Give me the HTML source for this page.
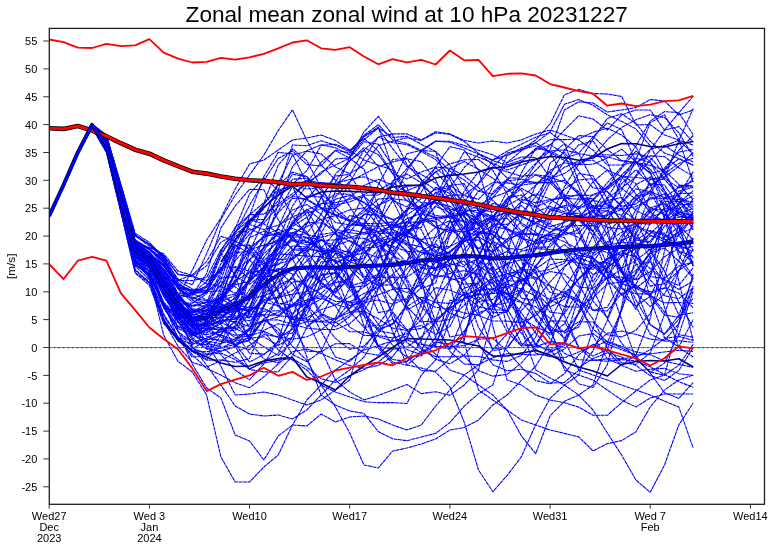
<!DOCTYPE html>
<html><head><meta charset="utf-8"><title>Zonal mean zonal wind at 10 hPa 20231227</title>
<style>
html,body{margin:0;padding:0;background:#fff;width:773px;height:548px;overflow:hidden}
svg{display:block;font-family:"Liberation Sans",Arial,Helvetica,sans-serif;fill:#111}
svg text{fill:#000}
</style></head><body>
<svg width="773" height="548" viewBox="0 0 773 548">
<rect width="773" height="548" fill="#fff"/>
<defs><clipPath id="c"><rect x="49.3" y="28.4" width="715.2" height="475.90000000000003"/></clipPath></defs>
<g clip-path="url(#c)" fill="none" stroke-linejoin="round">
<g stroke="#0000ff" stroke-width="1.1" stroke-dasharray="4,0.5">
<polyline points="49.2,216.0 63.5,185.4 77.8,153.0 92.1,126.6 106.4,148.3 120.8,205.2 135.1,255.0 149.4,258.0 163.7,271.3 178.0,287.9 192.3,291.2 206.6,287.0 220.9,268.5 235.2,251.2 249.5,234.2 263.9,220.5 278.2,195.9 292.5,174.3 306.8,176.6 321.1,190.0 335.4,207.3 349.7,220.6 364.0,225.2 378.3,226.5 392.6,224.5 406.9,230.1 421.3,240.4 435.6,252.7 449.9,257.5 464.2,240.9 478.5,219.1 492.8,192.3 507.1,178.8 521.4,190.3 535.7,214.4 550.1,220.2 564.4,198.6 578.7,173.5 593.0,175.8 607.3,198.4 621.6,222.2 635.9,240.1 650.2,241.5 664.5,221.4 678.8,203.0 693.2,195.6"/>
<polyline points="49.2,216.0 63.5,185.0 77.8,152.3 92.1,126.0 106.4,144.9 120.8,200.9 135.1,252.6 149.4,259.7 163.7,279.8 178.0,302.0 192.3,317.2 206.6,314.5 220.9,296.3 235.2,260.7 249.5,245.0 263.9,260.7 278.2,292.5 292.5,319.2 306.8,317.8 321.1,309.7 335.4,305.1 349.7,296.8 364.0,286.7 378.3,277.0 392.6,277.5 406.9,277.0 421.3,267.7 435.6,256.9 449.9,252.4 464.2,238.4 478.5,215.8 492.8,186.3 507.1,155.6 521.4,147.8 535.7,142.7 550.1,152.1 564.4,178.9 578.7,194.8 593.0,205.7 607.3,220.1 621.6,249.3 635.9,290.3 650.2,324.6 664.5,334.1 678.8,319.6 693.2,285.9"/>
<polyline points="49.2,216.0 63.5,185.0 77.8,152.0 92.1,125.4 106.4,142.7 120.8,201.6 135.1,260.2 149.4,275.0 163.7,306.1 178.0,318.9 192.3,327.1 206.6,328.8 220.9,329.5 235.2,326.9 249.5,307.4 263.9,274.5 278.2,270.5 292.5,283.8 306.8,305.0 321.1,320.6 335.4,338.4 349.7,349.4 364.0,346.0 378.3,330.9 392.6,333.5 406.9,349.6 421.3,354.7 435.6,345.2 449.9,307.5 464.2,277.8 478.5,264.1 492.8,252.0 507.1,239.1 521.4,233.9 535.7,233.9 550.1,236.0 564.4,241.8 578.7,249.5 593.0,247.4 607.3,232.5 621.6,218.8 635.9,200.4 650.2,183.8 664.5,185.0 678.8,205.7 693.2,230.0"/>
<polyline points="49.2,216.0 63.5,185.0 77.8,152.4 92.1,125.8 106.4,143.6 120.8,199.7 135.1,253.9 149.4,264.9 163.7,292.8 178.0,307.1 192.3,311.2 206.6,310.2 220.9,308.8 235.2,311.4 249.5,306.8 263.9,277.4 278.2,259.4 292.5,258.8 306.8,286.3 321.1,313.5 335.4,319.8 349.7,309.1 364.0,280.9 378.3,251.3 392.6,238.8 406.9,250.9 421.3,282.4 435.6,321.8 449.9,351.4 464.2,364.0 478.5,364.8 492.8,357.6 507.1,353.7 521.4,354.3 535.7,355.0 550.1,352.7 564.4,343.4 578.7,312.9 593.0,286.0 607.3,263.1 621.6,241.1 635.9,225.8 650.2,212.3 664.5,201.4 678.8,201.1 693.2,214.1"/>
<polyline points="49.2,216.0 63.5,185.4 77.8,153.0 92.1,127.0 106.4,148.0 120.8,199.6 135.1,244.9 149.4,251.7 163.7,269.4 178.0,299.7 192.3,317.1 206.6,317.7 220.9,305.3 235.2,273.5 249.5,237.7 263.9,231.1 278.2,236.4 292.5,249.2 306.8,248.5 321.1,224.3 335.4,196.6 349.7,181.4 364.0,174.1 378.3,166.6 392.6,161.9 406.9,158.8 421.3,161.7 435.6,179.7 449.9,209.7 464.2,231.4 478.5,235.8 492.8,217.9 507.1,198.1 521.4,195.0 535.7,206.4 550.1,218.8 564.4,219.0 578.7,216.0 593.0,216.5 607.3,215.3 621.6,203.0 635.9,184.7 650.2,176.9 664.5,193.4 678.8,226.1 693.2,266.4"/>
<polyline points="49.2,216.0 63.5,185.0 77.8,153.0 92.1,126.6 106.4,146.3 120.8,201.1 135.1,252.8 149.4,264.7 163.7,303.4 178.0,338.2 192.3,357.1 206.6,356.1 220.9,335.0 235.2,313.4 249.5,294.6 263.9,278.7 278.2,290.5 292.5,325.4 306.8,351.2 321.1,351.7 335.4,343.7 349.7,343.6 364.0,352.8 378.3,355.3 392.6,339.1 406.9,302.3 421.3,269.2 435.6,251.4 449.9,256.4 464.2,279.5 478.5,301.5 492.8,299.4 507.1,284.2 521.4,289.0 535.7,312.3 550.1,330.8 564.4,331.3 578.7,321.7 593.0,322.0 607.3,334.7 621.6,336.9 635.9,330.3 650.2,313.5 664.5,277.3 678.8,224.1 693.2,197.9"/>
<polyline points="49.2,216.0 63.5,185.1 77.8,152.8 92.1,126.4 106.4,148.2 120.8,206.8 135.1,261.8 149.4,267.4 163.7,292.0 178.0,314.7 192.3,334.2 206.6,330.8 220.9,305.5 235.2,270.3 249.5,259.6 263.9,278.3 278.2,305.5 292.5,313.4 306.8,302.4 321.1,295.8 335.4,306.1 349.7,327.2 364.0,335.4 378.3,335.6 392.6,337.9 406.9,333.8 421.3,319.5 435.6,299.0 449.9,280.4 464.2,255.1 478.5,233.2 492.8,226.0 507.1,229.4 521.4,238.4 535.7,241.7 550.1,232.2 564.4,226.3 578.7,225.5 593.0,225.7 607.3,219.3 621.6,200.6 635.9,175.6 650.2,150.3 664.5,130.1 678.8,126.6 693.2,142.1"/>
<polyline points="49.2,216.0 63.5,185.0 77.8,152.4 92.1,126.2 106.4,146.4 120.8,203.1 135.1,253.8 149.4,258.8 163.7,273.9 178.0,294.8 192.3,313.7 206.6,327.2 220.9,336.9 235.2,345.5 249.5,349.8 263.9,330.2 278.2,323.8 292.5,326.1 306.8,321.8 321.1,305.0 335.4,288.1 349.7,276.2 364.0,265.0 378.3,249.4 392.6,238.7 406.9,232.6 421.3,221.5 435.6,206.2 449.9,185.5 464.2,183.6 478.5,209.8 492.8,268.1 507.1,327.3 521.4,345.5 535.7,331.1 550.1,299.6 564.4,291.0 578.7,305.5 593.0,328.7 607.3,341.9 621.6,347.7 635.9,355.7 650.2,373.1 664.5,392.7 678.8,398.4 693.2,382.5"/>
<polyline points="49.2,216.0 63.5,185.0 77.8,153.0 92.1,126.4 106.4,147.4 120.8,207.4 135.1,269.1 149.4,283.3 163.7,321.8 178.0,338.2 192.3,339.8 206.6,323.1 220.9,291.3 235.2,253.2 249.5,250.8 263.9,263.9 278.2,258.1 292.5,236.6 306.8,222.2 321.1,223.1 335.4,229.3 349.7,232.8 364.0,234.2 378.3,232.1 392.6,228.4 406.9,218.7 421.3,213.4 435.6,218.0 449.9,228.6 464.2,240.7 478.5,248.6 492.8,238.1 507.1,216.0 521.4,201.5 535.7,193.8 550.1,199.0 564.4,208.7 578.7,228.9 593.0,259.7 607.3,278.8 621.6,268.9 635.9,234.0 650.2,209.0 664.5,209.9 678.8,234.8 693.2,258.0"/>
<polyline points="49.2,216.0 63.5,185.0 77.8,152.0 92.1,125.7 106.4,143.1 120.8,197.9 135.1,249.5 149.4,260.4 163.7,290.0 178.0,311.8 192.3,321.2 206.6,313.3 220.9,303.8 235.2,309.5 249.5,317.3 263.9,297.1 278.2,277.8 292.5,257.1 306.8,248.9 321.1,251.8 335.4,261.5 349.7,276.7 364.0,309.1 378.3,348.0 392.6,363.9 406.9,361.6 421.3,340.4 435.6,298.2 449.9,264.9 464.2,237.8 478.5,215.7 492.8,203.5 507.1,206.6 521.4,217.4 535.7,222.0 550.1,219.5 564.4,213.6 578.7,213.3 593.0,225.1 607.3,247.6 621.6,270.9 635.9,286.0 650.2,293.6 664.5,288.3 678.8,260.4 693.2,222.2"/>
<polyline points="49.2,216.0 63.5,185.0 77.8,152.3 92.1,126.0 106.4,143.2 120.8,193.1 135.1,240.3 149.4,248.6 163.7,265.3 178.0,299.3 192.3,322.2 206.6,329.6 220.9,324.1 235.2,311.0 249.5,295.8 263.9,278.8 278.2,269.4 292.5,268.3 306.8,287.9 321.1,316.5 335.4,326.8 349.7,316.7 364.0,302.6 378.3,300.0 392.6,304.3 406.9,298.1 421.3,270.5 435.6,235.1 449.9,212.8 464.2,204.6 478.5,209.0 492.8,212.1 507.1,203.0 521.4,184.4 535.7,175.0 550.1,180.7 564.4,194.4 578.7,210.2 593.0,231.1 607.3,265.3 621.6,288.8 635.9,293.8 650.2,294.1 664.5,312.0 678.8,334.6 693.2,337.2"/>
<polyline points="49.2,216.0 63.5,185.5 77.8,153.0 92.1,126.2 106.4,143.8 120.8,197.7 135.1,247.8 149.4,256.3 163.7,277.4 178.0,303.5 192.3,320.0 206.6,316.5 220.9,301.2 235.2,279.5 249.5,238.1 263.9,203.3 278.2,165.0 292.5,148.8 306.8,160.9 321.1,187.5 335.4,211.2 349.7,221.8 364.0,209.3 378.3,190.1 392.6,182.7 406.9,192.3 421.3,202.8 435.6,203.0 449.9,218.2 464.2,253.6 478.5,297.2 492.8,306.6 507.1,282.9 521.4,267.5 535.7,280.1 550.1,330.2 564.4,361.4 578.7,367.6 593.0,358.5 607.3,352.7 621.6,357.0 635.9,365.5 650.2,375.6 664.5,380.5 678.8,370.5 693.2,347.5"/>
<polyline points="49.2,216.0 63.5,185.0 77.8,152.5 92.1,125.8 106.4,142.2 120.8,195.0 135.1,247.0 149.4,257.1 163.7,277.6 178.0,298.0 192.3,308.7 206.6,310.5 220.9,300.7 235.2,283.1 249.5,259.5 263.9,248.0 278.2,239.3 292.5,233.0 306.8,226.7 321.1,219.3 335.4,215.7 349.7,209.9 364.0,207.9 378.3,217.1 392.6,228.2 406.9,225.2 421.3,205.0 435.6,187.3 449.9,193.6 464.2,222.8 478.5,264.3 492.8,289.4 507.1,298.4 521.4,302.4 535.7,306.7 550.1,318.4 564.4,333.1 578.7,327.1 593.0,299.5 607.3,266.5 621.6,241.0 635.9,233.1 650.2,258.3 664.5,307.7 678.8,347.4 693.2,357.0"/>
<polyline points="49.2,216.0 63.5,185.0 77.8,152.6 92.1,126.0 106.4,144.5 120.8,202.0 135.1,256.8 149.4,266.8 163.7,296.4 178.0,315.3 192.3,331.1 206.6,341.0 220.9,354.6 235.2,370.1 249.5,379.9 263.9,363.9 278.2,340.3 292.5,295.3 306.8,274.7 321.1,281.3 335.4,296.1 349.7,302.2 364.0,315.8 378.3,346.2 392.6,362.0 406.9,365.1 421.3,353.4 435.6,342.0 449.9,344.2 464.2,356.2 478.5,370.6 492.8,376.2 507.1,374.4 521.4,363.0 535.7,346.7 550.1,321.1 564.4,321.0 578.7,347.6 593.0,360.0 607.3,361.3 621.6,359.6 635.9,361.0 650.2,366.7 664.5,374.5 678.8,381.6 693.2,387.4"/>
<polyline points="49.2,216.0 63.5,185.1 77.8,153.0 92.1,126.9 106.4,148.1 120.8,202.7 135.1,251.0 149.4,256.6 163.7,269.6 178.0,287.7 192.3,296.8 206.6,304.7 220.9,307.6 235.2,308.0 249.5,293.7 263.9,266.8 278.2,253.9 292.5,255.1 306.8,256.1 321.1,256.5 335.4,260.2 349.7,266.4 364.0,277.5 378.3,285.5 392.6,284.7 406.9,268.7 421.3,254.7 435.6,246.6 449.9,253.4 464.2,286.5 478.5,327.5 492.8,348.5 507.1,347.5 521.4,328.8 535.7,297.0 550.1,257.7 564.4,220.0 578.7,197.7 593.0,198.7 607.3,227.4 621.6,286.2 635.9,309.4 650.2,276.0 664.5,215.9 678.8,185.2 693.2,185.8"/>
<polyline points="49.2,216.0 63.5,185.0 77.8,151.9 92.1,124.6 106.4,138.2 120.8,193.0 135.1,246.5 149.4,255.1 163.7,266.5 178.0,280.3 192.3,274.9 206.6,261.6 220.9,236.3 235.2,241.0 249.5,249.2 263.9,236.4 278.2,190.5 292.5,144.9 306.8,145.7 321.1,140.7 335.4,145.3 349.7,151.6 364.0,135.2 378.3,124.7 392.6,140.0 406.9,143.3 421.3,150.4 435.6,151.5 449.9,165.1 464.2,187.2 478.5,210.9 492.8,224.1 507.1,224.4 521.4,213.8 535.7,196.7 550.1,174.7 564.4,149.9 578.7,135.6 593.0,136.6 607.3,149.5 621.6,160.6 635.9,162.5 650.2,155.7 664.5,156.6 678.8,167.8 693.2,176.3"/>
<polyline points="49.2,216.0 63.5,185.5 77.8,153.0 92.1,126.9 106.4,150.3 120.8,211.4 135.1,272.6 149.4,282.9 163.7,307.0 178.0,313.2 192.3,321.1 206.6,326.1 220.9,331.3 235.2,330.3 249.5,313.3 263.9,276.7 278.2,253.2 292.5,237.0 306.8,237.3 321.1,250.7 335.4,250.7 349.7,222.3 364.0,194.3 378.3,188.3 392.6,192.7 406.9,190.7 421.3,184.8 435.6,172.1 449.9,163.8 464.2,159.9 478.5,159.5 492.8,170.4 507.1,193.7 521.4,224.6 535.7,235.7 550.1,223.2 564.4,198.4 578.7,194.4 593.0,216.8 607.3,248.9 621.6,272.8 635.9,287.5 650.2,291.8 664.5,287.8 678.8,293.1 693.2,307.8"/>
<polyline points="49.2,216.0 63.5,185.0 77.8,152.1 92.1,125.6 106.4,142.0 120.8,192.4 135.1,240.4 149.4,248.4 163.7,262.9 178.0,294.2 192.3,314.0 206.6,317.6 220.9,317.3 235.2,332.8 249.5,353.2 263.9,354.2 278.2,344.6 292.5,315.5 306.8,282.2 321.1,254.9 335.4,248.1 349.7,253.0 364.0,263.9 378.3,285.0 392.6,313.2 406.9,342.6 421.3,352.5 435.6,343.9 449.9,312.2 464.2,292.2 478.5,301.2 492.8,317.4 507.1,310.6 521.4,273.7 535.7,228.8 550.1,203.4 564.4,189.3 578.7,179.8 593.0,178.7 607.3,191.8 621.6,206.0 635.9,204.1 650.2,190.8 664.5,170.3 678.8,150.3 693.2,135.5"/>
<polyline points="49.2,216.0 63.5,185.1 77.8,153.0 92.1,126.6 106.4,148.6 120.8,206.8 135.1,261.6 149.4,271.4 163.7,308.0 178.0,328.4 192.3,335.9 206.6,330.3 220.9,327.1 235.2,337.7 249.5,336.0 263.9,288.7 278.2,248.4 292.5,232.3 306.8,237.8 321.1,247.5 335.4,253.6 349.7,261.0 364.0,258.5 378.3,225.5 392.6,182.6 406.9,153.7 421.3,150.3 435.6,156.9 449.9,171.0 464.2,180.0 478.5,191.3 492.8,194.1 507.1,180.4 521.4,162.0 535.7,148.4 550.1,151.0 564.4,158.5 578.7,153.4 593.0,136.8 607.3,122.9 621.6,129.6 635.9,161.8 650.2,184.7 664.5,178.0 678.8,140.7 693.2,108.6"/>
<polyline points="49.2,216.0 63.5,185.9 77.8,153.7 92.1,127.9 106.4,152.6 120.8,211.3 135.1,265.5 149.4,273.3 163.7,306.7 178.0,331.4 192.3,347.8 206.6,354.2 220.9,351.3 235.2,346.5 249.5,336.3 263.9,319.1 278.2,332.0 292.5,354.5 306.8,361.6 321.1,351.3 335.4,320.2 349.7,302.6 364.0,301.1 378.3,283.7 392.6,241.9 406.9,221.4 421.3,229.6 435.6,259.0 449.9,280.0 464.2,277.7 478.5,255.9 492.8,227.9 507.1,212.7 521.4,215.7 535.7,224.8 550.1,232.7 564.4,235.3 578.7,229.5 593.0,211.0 607.3,188.0 621.6,175.5 635.9,183.4 650.2,210.4 664.5,239.2 678.8,247.0 693.2,238.0"/>
<polyline points="49.2,216.0 63.5,185.0 77.8,151.6 92.1,124.7 106.4,139.2 120.8,193.3 135.1,242.8 149.4,247.7 163.7,253.8 178.0,271.1 192.3,275.5 206.6,283.7 220.9,286.5 235.2,293.2 249.5,281.6 263.9,246.6 278.2,204.3 292.5,166.7 306.8,150.8 321.1,144.7 335.4,147.8 349.7,154.8 364.0,139.9 378.3,127.8 392.6,137.4 406.9,136.4 421.3,144.4 435.6,151.4 449.9,191.2 464.2,217.6 478.5,225.6 492.8,217.7 507.1,212.5 521.4,213.3 535.7,212.1 550.1,206.4 564.4,211.7 578.7,232.1 593.0,264.7 607.3,269.1 621.6,239.0 635.9,209.3 650.2,197.9 664.5,198.6 678.8,199.5 693.2,202.1"/>
<polyline points="49.2,216.0 63.5,185.0 77.8,152.8 92.1,126.4 106.4,147.1 120.8,203.5 135.1,256.9 149.4,269.0 163.7,306.5 178.0,326.3 192.3,330.9 206.6,321.2 220.9,314.4 235.2,323.4 249.5,338.2 263.9,336.8 278.2,345.4 292.5,337.1 306.8,305.3 321.1,275.4 335.4,272.2 349.7,286.1 364.0,281.9 378.3,255.9 392.6,228.2 406.9,210.3 421.3,198.4 435.6,189.0 449.9,185.6 464.2,195.4 478.5,199.4 492.8,184.4 507.1,162.4 521.4,150.8 535.7,142.8 550.1,131.8 564.4,104.3 578.7,99.5 593.0,105.2 607.3,114.8 621.6,121.3 635.9,128.9 650.2,145.8 664.5,172.1 678.8,197.1 693.2,210.1"/>
<polyline points="49.2,216.0 63.5,185.1 77.8,152.9 92.1,126.4 106.4,147.0 120.8,204.5 135.1,259.2 149.4,267.2 163.7,287.6 178.0,296.3 192.3,293.2 206.6,285.7 220.9,267.2 235.2,267.2 249.5,278.4 263.9,272.3 278.2,248.2 292.5,215.1 306.8,196.0 321.1,197.1 335.4,215.2 349.7,235.2 364.0,252.4 378.3,257.8 392.6,251.4 406.9,236.0 421.3,212.4 435.6,192.5 449.9,189.5 464.2,201.7 478.5,221.0 492.8,250.6 507.1,289.3 521.4,320.9 535.7,345.3 550.1,350.3 564.4,341.8 578.7,297.0 593.0,255.9 607.3,246.9 621.6,268.3 635.9,306.2 650.2,334.1 664.5,341.2 678.8,340.7 693.2,342.4"/>
<polyline points="49.2,216.0 63.5,186.0 77.8,153.9 92.1,127.7 106.4,149.2 120.8,203.1 135.1,253.6 149.4,260.1 163.7,281.2 178.0,302.0 192.3,315.0 206.6,311.1 220.9,296.9 235.2,294.0 249.5,314.0 263.9,314.7 278.2,315.2 292.5,305.1 306.8,299.9 321.1,298.2 335.4,304.3 349.7,308.4 364.0,297.2 378.3,273.9 392.6,244.7 406.9,222.3 421.3,208.0 435.6,199.9 449.9,200.9 464.2,221.8 478.5,265.8 492.8,305.6 507.1,302.8 521.4,272.0 535.7,239.5 550.1,234.3 564.4,254.1 578.7,284.0 593.0,310.5 607.3,310.9 621.6,293.5 635.9,284.9 650.2,296.1 664.5,315.0 678.8,317.3 693.2,298.2"/>
<polyline points="49.2,216.0 63.5,185.3 77.8,153.0 92.1,127.1 106.4,148.5 120.8,201.1 135.1,246.8 149.4,254.5 163.7,277.8 178.0,305.0 192.3,318.2 206.6,313.7 220.9,297.6 235.2,272.7 249.5,247.4 263.9,237.3 278.2,232.6 292.5,228.5 306.8,233.6 321.1,251.2 335.4,286.7 349.7,312.5 364.0,305.8 378.3,275.5 392.6,243.4 406.9,227.5 421.3,220.2 435.6,217.9 449.9,215.0 464.2,212.3 478.5,223.6 492.8,243.3 507.1,259.7 521.4,243.3 535.7,211.9 550.1,182.4 564.4,161.4 578.7,144.9 593.0,140.9 607.3,162.0 621.6,197.5 635.9,222.9 650.2,224.3 664.5,207.5 678.8,193.6 693.2,193.2"/>
<polyline points="49.2,216.0 63.5,185.0 77.8,152.6 92.1,126.1 106.4,144.3 120.8,200.0 135.1,252.0 149.4,260.2 163.7,286.4 178.0,314.8 192.3,337.9 206.6,349.0 220.9,351.0 235.2,346.6 249.5,329.2 263.9,295.9 278.2,289.1 292.5,277.9 306.8,253.5 321.1,234.4 335.4,232.2 349.7,252.8 364.0,276.2 378.3,277.7 392.6,256.7 406.9,225.3 421.3,206.4 435.6,202.9 449.9,206.4 464.2,216.2 478.5,235.2 492.8,271.9 507.1,308.5 521.4,333.5 535.7,349.4 550.1,356.7 564.4,357.7 578.7,352.1 593.0,346.3 607.3,333.2 621.6,331.0 635.9,334.3 650.2,339.1 664.5,340.6 678.8,323.7 693.2,273.8"/>
<polyline points="49.2,216.0 63.5,185.0 77.8,152.0 92.1,124.7 106.4,137.4 120.8,188.1 135.1,240.5 149.4,252.6 163.7,281.6 178.0,314.9 192.3,334.0 206.6,325.6 220.9,299.6 235.2,255.9 249.5,222.4 263.9,204.4 278.2,185.5 292.5,172.1 306.8,176.5 321.1,195.8 335.4,232.2 349.7,281.7 364.0,326.2 378.3,346.2 392.6,349.3 406.9,347.1 421.3,336.8 435.6,322.7 449.9,306.2 464.2,288.1 478.5,283.8 492.8,304.3 507.1,331.9 521.4,346.0 535.7,344.5 550.1,320.3 564.4,293.2 578.7,300.0 593.0,336.1 607.3,358.9 621.6,365.0 635.9,355.1 650.2,318.6 664.5,250.8 678.8,203.1 693.2,190.6"/>
<polyline points="49.2,216.0 63.5,185.0 77.8,152.0 92.1,125.7 106.4,143.3 120.8,195.8 135.1,243.4 149.4,249.9 163.7,262.2 178.0,289.0 192.3,302.2 206.6,302.4 220.9,284.9 235.2,266.5 249.5,271.2 263.9,281.3 278.2,304.7 292.5,323.0 306.8,315.1 321.1,281.7 335.4,242.6 349.7,222.6 364.0,226.5 378.3,248.2 392.6,285.4 406.9,310.1 421.3,302.0 435.6,276.6 449.9,258.1 464.2,257.5 478.5,266.3 492.8,274.5 507.1,289.6 521.4,318.1 535.7,344.1 550.1,351.8 564.4,345.6 578.7,311.4 593.0,276.0 607.3,258.3 621.6,253.4 635.9,256.6 650.2,268.5 664.5,280.5 678.8,289.5 693.2,281.1"/>
<polyline points="49.2,215.7 63.5,184.7 77.8,151.9 92.1,125.0 106.4,139.8 120.8,194.3 135.1,246.1 149.4,254.7 163.7,271.4 178.0,295.2 192.3,309.4 206.6,315.1 220.9,324.4 235.2,346.5 249.5,369.4 263.9,371.9 278.2,371.8 292.5,355.8 306.8,327.4 321.1,314.6 335.4,321.9 349.7,331.7 364.0,331.9 378.3,336.6 392.6,341.3 406.9,336.1 421.3,313.1 435.6,271.4 449.9,229.4 464.2,212.1 478.5,219.3 492.8,234.9 507.1,239.7 521.4,220.5 535.7,185.3 550.1,171.9 564.4,196.5 578.7,249.0 593.0,282.1 607.3,257.1 621.6,215.4 635.9,195.3 650.2,186.7 664.5,173.9 678.8,163.4 693.2,158.2"/>
<polyline points="49.2,216.0 63.5,185.0 77.8,152.0 92.1,124.6 106.4,135.4 120.8,184.0 135.1,233.1 149.4,242.4 163.7,257.3 178.0,288.6 192.3,298.6 206.6,292.5 220.9,255.6 235.2,231.9 249.5,219.8 263.9,219.6 278.2,200.5 292.5,179.2 306.8,178.3 321.1,194.5 335.4,205.1 349.7,201.8 364.0,196.2 378.3,208.8 392.6,229.1 406.9,244.5 421.3,252.8 435.6,256.1 449.9,252.3 464.2,241.0 478.5,236.9 492.8,244.9 507.1,278.5 521.4,326.3 535.7,353.4 550.1,356.5 564.4,349.0 578.7,336.0 593.0,333.5 607.3,344.1 621.6,349.8 635.9,355.0 650.2,353.8 664.5,352.0 678.8,350.3 693.2,351.4"/>
<polyline points="49.2,216.0 63.5,185.4 77.8,153.3 92.1,127.4 106.4,149.7 120.8,203.4 135.1,249.5 149.4,255.4 163.7,276.4 178.0,308.2 192.3,334.0 206.6,343.2 220.9,346.8 235.2,357.2 249.5,368.7 263.9,362.9 278.2,360.2 292.5,358.7 306.8,367.1 321.1,378.7 335.4,382.5 349.7,375.6 364.0,369.8 378.3,362.2 392.6,350.0 406.9,329.8 421.3,325.3 435.6,334.4 449.9,326.6 464.2,297.4 478.5,271.9 492.8,257.8 507.1,251.5 521.4,255.9 535.7,273.7 550.1,292.5 564.4,295.5 578.7,279.2 593.0,261.9 607.3,262.9 621.6,268.2 635.9,260.7 650.2,249.1 664.5,242.2 678.8,232.5 693.2,217.0"/>
<polyline points="49.2,216.0 63.5,185.7 77.8,153.2 92.1,127.0 106.4,148.2 120.8,204.3 135.1,257.2 149.4,266.0 163.7,294.9 178.0,317.1 192.3,332.7 206.6,334.5 220.9,332.0 235.2,322.1 249.5,299.2 263.9,267.7 278.2,247.0 292.5,224.9 306.8,199.1 321.1,182.5 335.4,185.5 349.7,206.5 364.0,228.7 378.3,231.7 392.6,225.5 406.9,221.9 421.3,222.6 435.6,219.7 449.9,216.8 464.2,221.7 478.5,223.0 492.8,216.3 507.1,199.3 521.4,184.9 535.7,170.4 550.1,155.5 564.4,143.7 578.7,153.6 593.0,181.0 607.3,205.7 621.6,208.8 635.9,196.6 650.2,191.7 664.5,197.5 678.8,195.2 693.2,171.6"/>
<polyline points="49.2,216.0 63.5,185.0 77.8,152.2 92.1,125.7 106.4,141.7 120.8,193.0 135.1,245.3 149.4,256.9 163.7,278.7 178.0,294.2 192.3,298.2 206.6,300.7 220.9,301.6 235.2,295.4 249.5,271.4 263.9,253.6 278.2,241.9 292.5,224.4 306.8,212.8 321.1,208.8 335.4,215.3 349.7,221.2 364.0,212.0 378.3,199.0 392.6,198.0 406.9,215.7 421.3,245.4 435.6,268.9 449.9,260.4 464.2,234.1 478.5,214.4 492.8,207.6 507.1,212.7 521.4,222.9 535.7,232.0 550.1,255.1 564.4,280.0 578.7,298.7 593.0,319.1 607.3,348.1 621.6,362.8 635.9,364.4 650.2,352.9 664.5,314.4 678.8,271.4 693.2,237.8"/>
<polyline points="49.2,216.0 63.5,185.1 77.8,152.8 92.1,125.9 106.4,141.5 120.8,193.8 135.1,247.0 149.4,258.8 163.7,285.8 178.0,304.6 192.3,312.3 206.6,309.8 220.9,297.4 235.2,281.0 249.5,272.9 263.9,270.0 278.2,270.4 292.5,258.9 306.8,246.2 321.1,239.4 335.4,251.9 349.7,281.3 364.0,312.6 378.3,329.2 392.6,324.4 406.9,304.6 421.3,276.2 435.6,242.0 449.9,222.0 464.2,220.4 478.5,237.3 492.8,269.1 507.1,300.6 521.4,318.2 535.7,326.9 550.1,333.0 564.4,312.5 578.7,265.2 593.0,220.2 607.3,198.5 621.6,188.1 635.9,176.7 650.2,160.0 664.5,145.9 678.8,140.3 693.2,153.6"/>
<polyline points="49.2,215.3 63.5,184.1 77.8,151.1 92.1,124.1 106.4,135.3 120.8,184.6 135.1,234.5 149.4,244.6 163.7,259.0 178.0,288.1 192.3,299.3 206.6,292.6 220.9,251.2 235.2,227.5 249.5,214.7 263.9,214.1 278.2,204.1 292.5,193.6 306.8,183.4 321.1,162.3 335.4,150.6 349.7,158.2 364.0,169.3 378.3,206.0 392.6,232.4 406.9,234.9 421.3,222.5 435.6,206.4 449.9,212.6 464.2,234.8 478.5,260.3 492.8,271.5 507.1,263.4 521.4,251.0 535.7,248.5 550.1,249.6 564.4,250.2 578.7,263.9 593.0,301.2 607.3,317.7 621.6,283.8 635.9,215.9 650.2,179.2 664.5,179.2 678.8,195.7 693.2,207.3"/>
<polyline points="49.2,216.0 63.5,185.6 77.8,153.4 92.1,127.3 106.4,148.5 120.8,201.6 135.1,251.0 149.4,261.2 163.7,290.7 178.0,309.4 192.3,311.3 206.6,304.7 220.9,294.1 235.2,305.6 249.5,341.8 263.9,359.0 278.2,362.9 292.5,336.2 306.8,275.4 321.1,224.0 335.4,199.2 349.7,195.5 364.0,202.2 378.3,212.6 392.6,219.6 406.9,235.7 421.3,279.7 435.6,338.1 449.9,349.0 464.2,315.5 478.5,264.2 492.8,241.4 507.1,248.4 521.4,249.6 535.7,242.5 550.1,239.0 564.4,252.5 578.7,267.4 593.0,269.2 607.3,259.3 621.6,251.2 635.9,246.6 650.2,233.4 664.5,220.5 678.8,212.5 693.2,215.6"/>
<polyline points="49.2,216.0 63.5,185.0 77.8,152.8 92.1,126.8 106.4,150.0 120.8,208.5 135.1,264.8 149.4,274.0 163.7,302.1 178.0,317.0 192.3,326.5 206.6,325.6 220.9,321.0 235.2,318.5 249.5,320.7 263.9,311.1 278.2,310.8 292.5,305.1 306.8,293.9 321.1,288.6 335.4,276.9 349.7,251.6 364.0,225.3 378.3,206.2 392.6,193.6 406.9,186.3 421.3,184.9 435.6,197.5 449.9,214.5 464.2,234.0 478.5,248.4 492.8,251.3 507.1,241.5 521.4,231.1 535.7,223.0 550.1,211.3 564.4,205.6 578.7,206.6 593.0,207.3 607.3,203.8 621.6,190.4 635.9,159.7 650.2,122.6 664.5,114.8 678.8,139.5 693.2,182.2"/>
<polyline points="49.2,216.0 63.5,185.0 77.8,152.0 92.1,125.9 106.4,147.1 120.8,205.2 135.1,258.0 149.4,263.4 163.7,286.6 178.0,308.9 192.3,333.0 206.6,346.4 220.9,348.3 235.2,340.7 249.5,329.5 263.9,304.8 278.2,287.2 292.5,253.0 306.8,224.1 321.1,198.1 335.4,174.2 349.7,160.5 364.0,150.2 378.3,166.5 392.6,199.8 406.9,229.7 421.3,227.4 435.6,197.0 449.9,168.7 464.2,161.5 478.5,169.3 492.8,178.2 507.1,188.6 521.4,202.0 535.7,206.9 550.1,200.7 564.4,195.9 578.7,195.7 593.0,195.2 607.3,187.1 621.6,168.4 635.9,151.0 650.2,161.4 664.5,190.2 678.8,211.8 693.2,216.3"/>
<polyline points="49.2,216.0 63.5,185.1 77.8,153.0 92.1,126.8 106.4,148.5 120.8,206.0 135.1,262.7 149.4,276.8 163.7,318.6 178.0,340.9 192.3,348.9 206.6,340.2 220.9,334.5 235.2,344.4 249.5,361.9 263.9,354.6 278.2,341.7 292.5,318.1 306.8,307.0 321.1,299.0 335.4,281.5 349.7,247.5 364.0,226.5 378.3,231.6 392.6,253.7 406.9,281.8 421.3,318.5 435.6,347.5 449.9,348.3 464.2,330.8 478.5,312.7 492.8,307.8 507.1,296.8 521.4,282.0 535.7,267.5 550.1,244.0 564.4,231.7 578.7,237.5 593.0,253.4 607.3,245.0 621.6,220.1 635.9,198.6 650.2,193.1 664.5,216.1 678.8,281.3 693.2,340.9"/>
<polyline points="49.2,216.0 63.5,185.3 77.8,153.0 92.1,127.2 106.4,149.5 120.8,203.9 135.1,252.3 149.4,260.7 163.7,291.0 178.0,314.5 192.3,324.8 206.6,317.1 220.9,297.3 235.2,259.2 249.5,224.4 263.9,208.6 278.2,191.9 292.5,184.3 306.8,170.7 321.1,145.4 335.4,144.2 349.7,150.3 364.0,138.4 378.3,151.2 392.6,173.7 406.9,179.0 421.3,171.9 435.6,167.0 449.9,168.3 464.2,175.7 478.5,187.5 492.8,200.5 507.1,214.1 521.4,231.2 535.7,243.7 550.1,241.1 564.4,228.8 578.7,216.6 593.0,210.9 607.3,210.8 621.6,215.2 635.9,224.8 650.2,235.2 664.5,241.7 678.8,231.3 693.2,211.1"/>
<polyline points="49.2,216.0 63.5,185.0 77.8,152.0 92.1,125.1 106.4,139.0 120.8,191.1 135.1,243.1 149.4,252.5 163.7,266.0 178.0,284.8 192.3,290.1 206.6,290.3 220.9,269.3 235.2,243.6 249.5,220.3 263.9,204.6 278.2,183.8 292.5,186.4 306.8,216.9 321.1,247.7 335.4,263.0 349.7,255.2 364.0,248.0 378.3,246.8 392.6,239.1 406.9,231.3 421.3,243.4 435.6,295.1 449.9,337.1 464.2,333.9 478.5,295.4 492.8,251.5 507.1,225.8 521.4,211.8 535.7,212.4 550.1,218.7 564.4,218.5 578.7,202.5 593.0,181.8 607.3,170.0 621.6,176.5 635.9,194.0 650.2,212.3 664.5,222.1 678.8,225.1 693.2,239.9"/>
<polyline points="49.2,216.0 63.5,184.8 77.8,151.6 92.1,124.7 106.4,138.8 120.8,192.1 135.1,243.7 149.4,253.0 163.7,269.1 178.0,293.7 192.3,310.5 206.6,322.2 220.9,328.5 235.2,327.4 249.5,309.1 263.9,269.9 278.2,249.7 292.5,240.6 306.8,242.7 321.1,227.2 335.4,191.4 349.7,156.7 364.0,136.0 378.3,127.1 392.6,168.4 406.9,236.0 421.3,288.7 435.6,283.0 449.9,234.5 464.2,201.6 478.5,205.1 492.8,239.5 507.1,273.6 521.4,271.8 535.7,248.7 550.1,232.6 564.4,221.4 578.7,207.6 593.0,194.3 607.3,191.4 621.6,207.4 635.9,244.8 650.2,298.4 664.5,337.7 678.8,347.0 693.2,319.6"/>
<polyline points="49.2,216.0 63.5,185.6 77.8,153.0 92.1,126.9 106.4,147.7 120.8,202.0 135.1,250.0 149.4,256.4 163.7,273.3 178.0,296.6 192.3,310.0 206.6,314.4 220.9,315.0 235.2,318.0 249.5,310.5 263.9,268.5 278.2,227.4 292.5,196.4 306.8,182.7 321.1,173.9 335.4,159.1 349.7,157.8 364.0,141.7 378.3,144.2 392.6,165.9 406.9,196.4 421.3,217.7 435.6,227.4 449.9,230.4 464.2,232.0 478.5,227.8 492.8,217.2 507.1,211.8 521.4,216.2 535.7,223.1 550.1,228.9 564.4,230.5 578.7,218.5 593.0,199.5 607.3,182.8 621.6,167.0 635.9,146.1 650.2,121.0 664.5,111.6 678.8,112.6 693.2,134.7"/>
<polyline points="49.2,216.0 63.5,185.0 77.8,152.5 92.1,125.8 106.4,142.9 120.8,199.3 135.1,256.7 149.4,272.5 163.7,305.2 178.0,316.2 192.3,318.6 206.6,312.8 220.9,306.9 235.2,298.6 249.5,282.2 263.9,266.8 278.2,272.1 292.5,302.5 306.8,326.3 321.1,317.5 335.4,289.0 349.7,280.4 364.0,308.7 378.3,346.0 392.6,359.5 406.9,361.5 421.3,351.4 435.6,320.3 449.9,280.5 464.2,249.2 478.5,233.9 492.8,230.7 507.1,242.5 521.4,282.6 535.7,320.5 550.1,334.9 564.4,324.0 578.7,294.2 593.0,261.9 607.3,241.8 621.6,232.4 635.9,226.0 650.2,231.6 664.5,240.2 678.8,235.5 693.2,217.3"/>
<polyline points="49.2,216.0 63.5,185.0 77.8,152.0 92.1,125.0 106.4,141.0 120.8,197.9 135.1,251.2 149.4,259.3 163.7,277.8 178.0,293.3 192.3,293.0 206.6,281.7 220.9,253.1 235.2,275.3 249.5,317.0 263.9,315.8 278.2,299.4 292.5,275.2 306.8,260.8 321.1,248.3 335.4,232.2 349.7,215.5 364.0,219.2 378.3,238.9 392.6,265.0 406.9,287.4 421.3,300.0 435.6,307.2 449.9,309.2 464.2,312.9 478.5,315.3 492.8,304.9 507.1,288.8 521.4,278.9 535.7,277.7 550.1,286.1 564.4,315.6 578.7,346.9 593.0,356.1 607.3,349.4 621.6,310.2 635.9,257.4 650.2,222.8 664.5,208.8 678.8,208.8 693.2,227.2"/>
<polyline points="49.2,216.0 63.5,185.4 77.8,153.0 92.1,126.8 106.4,146.9 120.8,201.2 135.1,251.9 149.4,261.6 163.7,292.9 178.0,320.9 192.3,339.8 206.6,348.9 220.9,343.6 235.2,325.4 249.5,276.9 263.9,235.5 278.2,212.6 292.5,198.4 306.8,198.9 321.1,207.8 335.4,222.4 349.7,225.0 364.0,225.9 378.3,250.3 392.6,288.5 406.9,302.4 421.3,287.4 435.6,258.0 449.9,221.3 464.2,191.2 478.5,171.4 492.8,167.2 507.1,171.8 521.4,176.2 535.7,174.7 550.1,176.8 564.4,182.5 578.7,193.1 593.0,209.3 607.3,234.9 621.6,270.1 635.9,299.9 650.2,324.6 664.5,333.9 678.8,315.4 693.2,277.7"/>
<polyline points="49.2,216.0 63.5,185.5 77.8,153.0 92.1,126.5 106.4,147.0 120.8,204.5 135.1,262.1 149.4,278.1 163.7,319.6 178.0,338.9 192.3,344.4 206.6,338.1 220.9,329.4 235.2,328.5 249.5,335.6 263.9,331.4 278.2,337.5 292.5,329.3 306.8,306.5 321.1,286.8 335.4,282.7 349.7,279.5 364.0,259.6 378.3,236.6 392.6,222.6 406.9,230.1 421.3,245.2 435.6,262.6 449.9,256.7 464.2,257.1 478.5,277.2 492.8,304.5 507.1,311.6 521.4,272.8 535.7,209.6 550.1,163.1 564.4,152.2 578.7,171.1 593.0,187.9 607.3,189.3 621.6,178.0 635.9,163.7 650.2,149.3 664.5,145.3 678.8,155.1 693.2,162.0"/>
<polyline points="49.2,216.0 63.5,185.0 77.8,152.1 92.1,124.9 106.4,136.6 120.8,186.6 135.1,241.1 149.4,256.2 163.7,287.7 178.0,312.1 192.3,323.2 206.6,317.0 220.9,301.1 235.2,273.6 249.5,249.7 263.9,245.2 278.2,241.4 292.5,235.1 306.8,223.6 321.1,197.8 335.4,176.0 349.7,174.5 364.0,196.2 378.3,221.2 392.6,236.8 406.9,243.7 421.3,246.9 435.6,257.8 449.9,271.4 464.2,280.1 478.5,268.2 492.8,240.1 507.1,213.6 521.4,205.5 535.7,218.4 550.1,226.7 564.4,222.4 578.7,216.5 593.0,220.2 607.3,227.4 621.6,229.1 635.9,222.9 650.2,217.7 664.5,219.5 678.8,223.3 693.2,216.1"/>
<polyline points="49.2,216.0 63.5,185.1 77.8,152.9 92.1,126.4 106.4,147.5 120.8,204.4 135.1,256.2 149.4,262.9 163.7,288.5 178.0,309.2 192.3,319.1 206.6,318.5 220.9,312.7 235.2,308.8 249.5,311.4 263.9,299.7 278.2,297.2 292.5,294.3 306.8,291.7 321.1,279.8 335.4,263.5 349.7,256.0 364.0,266.0 378.3,281.5 392.6,300.1 406.9,299.7 421.3,281.0 435.6,262.1 449.9,266.0 464.2,293.7 478.5,315.5 492.8,321.0 507.1,321.1 521.4,322.6 535.7,315.5 550.1,301.2 564.4,296.2 578.7,301.0 593.0,310.1 607.3,307.2 621.6,281.6 635.9,251.0 650.2,235.7 664.5,238.0 678.8,226.9 693.2,213.5"/>
<polyline points="49.2,216.0 63.5,184.6 77.8,151.5 92.1,124.6 106.4,137.1 120.8,186.2 135.1,235.5 149.4,244.4 163.7,255.4 178.0,274.6 192.3,275.9 206.6,265.9 220.9,242.2 235.2,234.1 249.5,224.5 263.9,229.6 278.2,225.2 292.5,216.8 306.8,211.2 321.1,231.6 335.4,273.5 349.7,311.4 364.0,327.5 378.3,324.9 392.6,304.6 406.9,275.2 421.3,250.5 435.6,243.8 449.9,255.1 464.2,265.4 478.5,258.2 492.8,225.2 507.1,200.3 521.4,188.3 535.7,196.0 550.1,209.5 564.4,213.2 578.7,215.9 593.0,235.7 607.3,274.4 621.6,295.5 635.9,284.1 650.2,259.6 664.5,242.1 678.8,243.3 693.2,265.9"/>
<polyline points="49.2,216.0 63.5,185.0 77.8,152.5 92.1,126.0 106.4,144.3 120.8,201.3 135.1,254.9 149.4,265.0 163.7,290.2 178.0,303.0 192.3,303.2 206.6,293.9 220.9,263.8 235.2,245.3 249.5,253.1 263.9,265.8 278.2,264.9 292.5,249.6 306.8,237.4 321.1,239.2 335.4,250.3 349.7,256.5 364.0,252.8 378.3,241.6 392.6,237.4 406.9,245.2 421.3,265.4 435.6,277.3 449.9,273.6 464.2,270.5 478.5,274.0 492.8,283.8 507.1,313.6 521.4,343.4 535.7,346.6 550.1,341.7 564.4,343.5 578.7,348.3 593.0,347.0 607.3,341.2 621.6,346.4 635.9,351.9 650.2,354.7 664.5,361.0 678.8,364.4 693.2,367.3"/>
<polyline points="49.2,216.0 63.5,185.0 77.8,152.0 92.1,125.8 106.4,147.2 120.8,206.5 135.1,261.3 149.4,267.7 163.7,293.7 178.0,312.9 192.3,326.1 206.6,323.8 220.9,316.4 235.2,307.4 249.5,310.1 263.9,315.4 278.2,335.3 292.5,333.0 306.8,309.5 321.1,272.9 335.4,246.0 349.7,240.3 364.0,249.9 378.3,270.6 392.6,286.6 406.9,292.5 421.3,284.7 435.6,268.4 449.9,250.9 464.2,240.3 478.5,240.1 492.8,252.6 507.1,264.4 521.4,277.1 535.7,291.9 550.1,307.0 564.4,299.0 578.7,278.5 593.0,266.2 607.3,278.6 621.6,319.6 635.9,358.7 650.2,372.3 664.5,363.2 678.8,334.5 693.2,291.4"/>
<polyline points="49.2,216.0 63.5,185.0 77.8,152.2 92.1,125.9 106.4,144.5 120.8,200.5 135.1,251.3 149.4,257.4 163.7,274.9 178.0,300.9 192.3,323.1 206.6,336.4 220.9,341.5 235.2,343.3 249.5,340.0 263.9,307.1 278.2,277.1 292.5,249.8 306.8,250.9 321.1,271.3 335.4,297.0 349.7,305.7 364.0,301.4 378.3,294.7 392.6,289.4 406.9,288.2 421.3,299.8 435.6,327.9 449.9,348.9 464.2,340.5 478.5,279.2 492.8,219.2 507.1,191.0 521.4,181.9 535.7,182.4 550.1,182.8 564.4,197.3 578.7,220.8 593.0,231.0 607.3,213.3 621.6,179.1 635.9,158.0 650.2,162.6 664.5,178.3 678.8,187.9 693.2,181.0"/>
<polyline points="49.2,216.0 63.5,185.0 77.8,152.0 92.1,125.5 106.4,142.6 120.8,197.5 135.1,249.2 149.4,258.1 163.7,281.8 178.0,309.3 192.3,328.6 206.6,333.0 220.9,321.6 235.2,299.9 249.5,267.5 263.9,247.0 278.2,233.2 292.5,232.9 306.8,242.0 321.1,249.5 335.4,258.2 349.7,255.3 364.0,240.8 378.3,223.6 392.6,200.8 406.9,171.0 421.3,150.1 435.6,141.1 449.9,141.3 464.2,145.5 478.5,150.3 492.8,154.7 507.1,162.8 521.4,156.9 535.7,157.5 550.1,177.7 564.4,200.2 578.7,209.1 593.0,200.4 607.3,186.4 621.6,176.4 635.9,177.5 650.2,179.1 664.5,177.0 678.8,166.3 693.2,152.6"/>
<polyline points="49.2,216.0 63.5,186.0 77.8,153.8 92.1,127.5 106.4,148.7 120.8,204.4 135.1,260.0 149.4,276.9 163.7,321.4 178.0,346.1 192.3,362.3 206.6,367.1 220.9,360.7 235.2,353.0 249.5,345.5 263.9,334.4 278.2,336.8 292.5,339.2 306.8,336.8 321.1,330.0 335.4,318.0 349.7,287.8 364.0,247.0 378.3,208.8 392.6,180.9 406.9,174.0 421.3,182.6 435.6,198.3 449.9,209.2 464.2,210.9 478.5,210.5 492.8,216.5 507.1,230.4 521.4,260.2 535.7,301.1 550.1,330.5 564.4,331.8 578.7,313.5 593.0,292.7 607.3,277.7 621.6,277.0 635.9,292.5 650.2,306.6 664.5,293.9 678.8,270.2 693.2,261.6"/>
<polyline points="49.2,216.0 63.5,185.3 77.8,152.6 92.1,125.1 106.4,137.3 120.8,187.6 135.1,239.9 149.4,249.0 163.7,260.5 178.0,283.8 192.3,293.0 206.6,292.7 220.9,281.7 235.2,286.8 249.5,298.7 263.9,295.9 278.2,306.6 292.5,319.5 306.8,321.3 321.1,321.9 335.4,322.5 349.7,314.8 364.0,298.1 378.3,280.3 392.6,262.3 406.9,260.9 421.3,282.2 435.6,302.2 449.9,303.5 464.2,294.4 478.5,290.4 492.8,288.7 507.1,286.8 521.4,280.6 535.7,272.1 550.1,269.6 564.4,263.2 578.7,241.4 593.0,217.5 607.3,210.4 621.6,228.8 635.9,263.2 650.2,286.1 664.5,283.8 678.8,270.5 693.2,249.5"/>
<polyline points="49.2,216.0 63.5,185.0 77.8,153.0 92.1,126.5 106.4,146.8 120.8,204.1 135.1,260.2 149.4,274.8 163.7,314.1 178.0,336.9 192.3,350.4 206.6,351.9 220.9,347.8 235.2,344.5 249.5,340.6 263.9,318.5 278.2,312.2 292.5,306.5 306.8,302.0 321.1,293.5 335.4,280.1 349.7,261.0 364.0,247.1 378.3,239.6 392.6,234.7 406.9,235.5 421.3,241.2 435.6,247.4 449.9,246.4 464.2,239.2 478.5,228.7 492.8,220.0 507.1,218.3 521.4,234.1 535.7,257.5 550.1,254.5 564.4,244.6 578.7,256.2 593.0,289.5 607.3,318.5 621.6,343.2 635.9,358.8 650.2,372.0 664.5,375.2 678.8,365.2 693.2,344.2"/>
<polyline points="49.2,216.0 63.5,185.1 77.8,153.0 92.1,126.5 106.4,145.9 120.8,201.1 135.1,253.0 149.4,261.9 163.7,291.7 178.0,322.2 192.3,343.2 206.6,344.9 220.9,334.1 235.2,320.9 249.5,300.5 263.9,267.6 278.2,244.5 292.5,223.1 306.8,210.0 321.1,203.6 335.4,202.6 349.7,199.3 364.0,195.3 378.3,195.0 392.6,185.6 406.9,168.5 421.3,151.1 435.6,141.4 449.9,142.1 464.2,148.1 478.5,154.0 492.8,160.0 507.1,151.2 521.4,144.3 535.7,137.2 550.1,132.5 564.4,143.2 578.7,181.7 593.0,208.4 607.3,208.7 621.6,183.7 635.9,169.6 650.2,184.6 664.5,218.5 678.8,250.9 693.2,256.5"/>
<polyline points="49.2,216.0 63.5,185.0 77.8,152.7 92.1,126.8 106.4,148.6 120.8,203.1 135.1,254.1 149.4,266.0 163.7,303.9 178.0,326.8 192.3,333.7 206.6,319.7 220.9,299.3 235.2,284.8 249.5,281.2 263.9,266.0 278.2,243.9 292.5,222.3 306.8,231.9 321.1,256.8 335.4,270.7 349.7,260.9 364.0,242.1 378.3,233.5 392.6,233.1 406.9,241.5 421.3,261.1 435.6,270.6 449.9,265.3 464.2,261.1 478.5,279.3 492.8,293.3 507.1,281.1 521.4,238.0 535.7,203.8 550.1,178.8 564.4,167.3 578.7,161.0 593.0,160.1 607.3,170.0 621.6,188.3 635.9,199.3 650.2,207.3 664.5,214.5 678.8,228.1 693.2,264.6"/>
<polyline points="49.2,216.0 63.5,185.1 77.8,152.8 92.1,126.2 106.4,143.9 120.8,194.8 135.1,241.7 149.4,249.0 163.7,261.6 178.0,286.9 192.3,299.7 206.6,309.5 220.9,313.0 235.2,311.6 249.5,289.6 263.9,268.6 278.2,264.0 292.5,259.4 306.8,248.6 321.1,233.4 335.4,208.2 349.7,182.5 364.0,158.0 378.3,137.0 392.6,142.7 406.9,144.4 421.3,151.6 435.6,159.5 449.9,175.9 464.2,199.1 478.5,226.6 492.8,259.9 507.1,280.6 521.4,281.5 535.7,268.9 550.1,259.0 564.4,259.6 578.7,263.2 593.0,265.9 607.3,260.2 621.6,235.3 635.9,221.9 650.2,219.3 664.5,220.7 678.8,217.0 693.2,217.7"/>
<polyline points="49.2,216.0 63.5,185.9 77.8,153.3 92.1,127.1 106.4,149.2 120.8,206.5 135.1,261.5 149.4,270.0 163.7,306.8 178.0,331.6 192.3,342.3 206.6,338.6 220.9,331.0 235.2,335.2 249.5,334.3 263.9,306.0 278.2,285.0 292.5,278.6 306.8,285.9 321.1,294.2 335.4,301.4 349.7,302.0 364.0,293.4 378.3,287.3 392.6,274.3 406.9,261.2 421.3,240.5 435.6,227.3 449.9,220.5 464.2,244.9 478.5,311.1 492.8,350.6 507.1,348.3 521.4,328.5 535.7,312.5 550.1,303.4 564.4,288.8 578.7,265.4 593.0,235.2 607.3,215.2 621.6,209.5 635.9,220.2 650.2,249.0 664.5,279.5 678.8,285.3 693.2,267.8"/>
<polyline points="49.2,216.0 63.5,185.0 77.8,152.7 92.1,126.2 106.4,144.7 120.8,199.6 135.1,249.6 149.4,257.5 163.7,284.1 178.0,312.1 192.3,327.7 206.6,324.2 220.9,312.3 235.2,305.4 249.5,307.8 263.9,308.5 278.2,316.0 292.5,316.7 306.8,319.3 321.1,321.6 335.4,318.3 349.7,312.4 364.0,311.3 378.3,318.8 392.6,328.1 406.9,330.4 421.3,328.4 435.6,319.6 449.9,308.1 464.2,298.1 478.5,293.7 492.8,278.6 507.1,273.5 521.4,279.5 535.7,290.9 550.1,299.8 564.4,306.6 578.7,307.2 593.0,297.7 607.3,283.9 621.6,281.9 635.9,278.9 650.2,257.4 664.5,217.5 678.8,191.1 693.2,187.4"/>
<polyline points="49.2,216.0 63.5,185.0 77.8,152.9 92.1,126.4 106.4,145.6 120.8,199.3 135.1,249.2 149.4,256.6 163.7,270.6 178.0,286.8 192.3,290.4 206.6,291.9 220.9,290.8 235.2,306.1 249.5,327.2 263.9,321.2 278.2,316.9 292.5,304.6 306.8,305.1 321.1,331.1 335.4,357.0 349.7,361.4 364.0,348.9 378.3,327.4 392.6,319.3 406.9,330.2 421.3,347.8 435.6,359.1 449.9,363.8 464.2,355.1 478.5,338.5 492.8,307.7 507.1,269.2 521.4,232.8 535.7,218.3 550.1,223.9 564.4,233.2 578.7,233.2 593.0,217.1 607.3,200.4 621.6,197.5 635.9,210.5 650.2,217.4 664.5,211.9 678.8,204.7 693.2,204.2"/>
<polyline points="49.2,216.0 63.5,185.0 77.8,153.0 92.1,127.0 106.4,150.9 120.8,211.5 135.1,272.8 149.4,285.3 163.7,323.6 178.0,339.9 192.3,354.6 206.6,368.4 220.9,375.1 235.2,382.7 249.5,387.8 263.9,376.8 278.2,364.0 292.5,351.8 306.8,349.0 321.1,353.4 335.4,359.8 349.7,365.5 364.0,368.3 378.3,365.5 392.6,356.5 406.9,338.9 421.3,304.2 435.6,287.6 449.9,290.2 464.2,296.1 478.5,288.3 492.8,277.4 507.1,263.9 521.4,259.5 535.7,266.8 550.1,285.8 564.4,293.4 578.7,279.3 593.0,266.5 607.3,272.2 621.6,282.8 635.9,273.9 650.2,253.2 664.5,241.7 678.8,243.9 693.2,241.4"/>
<polyline points="49.2,216.0 63.5,185.0 77.8,152.0 92.1,125.5 106.4,143.3 120.8,198.7 135.1,248.9 149.4,256.0 163.7,274.3 178.0,299.8 192.3,316.2 206.6,321.0 220.9,322.6 235.2,328.6 249.5,324.8 263.9,294.5 278.2,257.6 292.5,221.0 306.8,209.3 321.1,219.8 335.4,234.0 349.7,241.3 364.0,248.2 378.3,272.3 392.6,318.4 406.9,356.0 421.3,370.8 435.6,371.1 449.9,358.9 464.2,334.1 478.5,300.0 492.8,288.3 507.1,293.6 521.4,312.9 535.7,333.1 550.1,349.8 564.4,366.4 578.7,383.8 593.0,387.5 607.3,364.8 621.6,306.8 635.9,232.0 650.2,194.5 664.5,168.0 678.8,152.1 693.2,149.4"/>
<polyline points="49.2,216.0 63.5,185.4 77.8,153.0 92.1,126.2 106.4,142.9 120.8,195.4 135.1,246.6 149.4,256.1 163.7,277.1 178.0,298.8 192.3,306.8 206.6,302.2 220.9,271.4 235.2,228.7 249.5,194.1 263.9,177.6 278.2,190.1 292.5,216.0 306.8,234.8 321.1,237.4 335.4,233.6 349.7,229.5 364.0,232.6 378.3,236.4 392.6,251.5 406.9,278.7 421.3,306.6 435.6,322.0 449.9,319.5 464.2,305.0 478.5,290.3 492.8,282.6 507.1,277.7 521.4,271.6 535.7,249.4 550.1,217.2 564.4,186.8 578.7,164.0 593.0,155.2 607.3,154.8 621.6,155.5 635.9,153.8 650.2,157.2 664.5,173.8 678.8,197.8 693.2,220.2"/>
<polyline points="49.2,216.0 63.5,185.0 77.8,152.3 92.1,126.0 106.4,142.9 120.8,193.8 135.1,243.2 149.4,253.7 163.7,281.9 178.0,312.6 192.3,326.3 206.6,318.8 220.9,309.9 235.2,317.1 249.5,337.3 263.9,346.8 278.2,355.5 292.5,341.4 306.8,301.4 321.1,265.9 335.4,244.0 349.7,226.8 364.0,214.2 378.3,215.1 392.6,219.6 406.9,214.9 421.3,205.1 435.6,201.7 449.9,210.6 464.2,228.1 478.5,251.9 492.8,282.8 507.1,300.1 521.4,290.5 535.7,265.4 550.1,251.0 564.4,252.4 578.7,255.3 593.0,258.2 607.3,269.7 621.6,280.2 635.9,270.5 650.2,253.3 664.5,248.0 678.8,261.1 693.2,278.4"/>
<polyline points="49.2,216.0 63.5,184.7 77.8,151.5 92.1,124.5 106.4,137.9 120.8,191.4 135.1,245.5 149.4,256.9 163.7,281.0 178.0,298.1 192.3,294.4 206.6,273.6 220.9,227.9 235.2,205.9 249.5,189.4 263.9,189.7 278.2,219.8 292.5,240.5 306.8,245.0 321.1,240.4 335.4,239.9 349.7,237.9 364.0,238.3 378.3,244.5 392.6,255.4 406.9,263.2 421.3,264.4 435.6,268.0 449.9,259.5 464.2,241.6 478.5,232.4 492.8,234.6 507.1,248.0 521.4,270.6 535.7,294.3 550.1,312.1 564.4,313.9 578.7,290.7 593.0,253.9 607.3,223.8 621.6,221.6 635.9,237.8 650.2,243.3 664.5,221.7 678.8,196.5 693.2,177.8"/>
<polyline points="49.2,216.0 63.5,185.3 77.8,152.8 92.1,125.8 106.4,142.3 120.8,193.9 135.1,242.7 149.4,249.3 163.7,259.8 178.0,282.3 192.3,293.4 206.6,299.9 220.9,303.7 235.2,315.9 249.5,317.9 263.9,293.2 278.2,282.0 292.5,268.5 306.8,251.1 321.1,240.3 335.4,246.1 349.7,268.6 364.0,283.5 378.3,273.5 392.6,241.8 406.9,212.1 421.3,182.2 435.6,167.9 449.9,179.4 464.2,209.1 478.5,234.0 492.8,233.2 507.1,205.1 521.4,172.7 535.7,148.7 550.1,139.7 564.4,139.6 578.7,139.0 593.0,132.2 607.3,128.2 621.6,135.0 635.9,147.0 650.2,172.3 664.5,209.1 678.8,255.8 693.2,276.8"/>
<polyline points="49.2,216.0 63.5,185.0 77.8,152.0 92.1,124.9 106.4,138.5 120.8,192.5 135.1,246.6 149.4,257.2 163.7,283.8 178.0,316.6 192.3,347.5 206.6,359.7 220.9,344.3 235.2,306.4 249.5,253.0 263.9,235.5 278.2,229.2 292.5,236.2 306.8,255.9 321.1,283.1 335.4,293.2 349.7,277.3 364.0,253.6 378.3,242.4 392.6,246.0 406.9,251.6 421.3,251.9 435.6,255.1 449.9,247.1 464.2,227.0 478.5,213.1 492.8,216.7 507.1,229.3 521.4,233.8 535.7,234.5 550.1,240.1 564.4,233.2 578.7,216.2 593.0,205.4 607.3,207.3 621.6,209.4 635.9,206.6 650.2,199.3 664.5,193.9 678.8,201.8 693.2,220.5"/>
<polyline points="49.2,216.0 63.5,184.7 77.8,151.9 92.1,125.1 106.4,139.3 120.8,188.1 135.1,235.8 149.4,244.1 163.7,257.6 178.0,286.0 192.3,295.3 206.6,287.2 220.9,252.6 235.2,236.3 249.5,228.8 263.9,235.2 278.2,234.8 292.5,235.7 306.8,233.5 321.1,214.4 335.4,181.8 349.7,160.9 364.0,147.7 378.3,154.6 392.6,173.5 406.9,193.0 421.3,212.0 435.6,227.1 449.9,232.4 464.2,227.8 478.5,216.1 492.8,197.5 507.1,180.8 521.4,179.3 535.7,182.9 550.1,182.7 564.4,180.3 578.7,191.7 593.0,212.5 607.3,219.5 621.6,202.5 635.9,188.9 650.2,191.5 664.5,205.1 678.8,216.2 693.2,218.5"/>
<polyline points="49.2,216.0 63.5,185.0 77.8,153.0 92.1,126.6 106.4,146.8 120.8,201.6 135.1,253.6 149.4,262.9 163.7,286.4 178.0,300.2 192.3,305.2 206.6,306.4 220.9,296.6 235.2,282.1 249.5,260.3 263.9,240.1 278.2,211.3 292.5,186.5 306.8,180.5 321.1,182.8 335.4,183.5 349.7,179.5 364.0,176.7 378.3,182.7 392.6,200.4 406.9,206.8 421.3,192.1 435.6,166.8 449.9,146.6 464.2,150.0 478.5,170.2 492.8,217.5 507.1,266.9 521.4,298.3 535.7,300.4 550.1,281.9 564.4,266.2 578.7,257.5 593.0,263.4 607.3,279.7 621.6,294.8 635.9,306.0 650.2,296.3 664.5,266.8 678.8,234.0 693.2,228.2"/>
<polyline points="49.2,216.0 63.5,184.6 77.8,151.2 92.1,124.1 106.4,135.2 120.8,184.6 135.1,235.4 149.4,246.4 163.7,256.3 178.0,274.2 192.3,276.7 206.6,280.5 220.9,271.0 235.2,253.2 249.5,215.8 263.9,176.4 278.2,152.4 292.5,153.9 306.8,183.8 321.1,208.1 335.4,214.6 349.7,220.0 364.0,223.5 378.3,223.7 392.6,221.9 406.9,209.9 421.3,185.4 435.6,171.7 449.9,187.4 464.2,213.2 478.5,224.0 492.8,216.2 507.1,205.6 521.4,197.8 535.7,185.1 550.1,170.4 564.4,162.7 578.7,164.7 593.0,164.3 607.3,158.1 621.6,149.2 635.9,161.7 650.2,173.4 664.5,170.1 678.8,158.7 693.2,165.1"/>
<polyline points="49.2,216.0 63.5,185.0 77.8,152.0 92.1,125.2 106.4,142.1 120.8,197.8 135.1,250.7 149.4,261.2 163.7,291.0 178.0,318.6 192.3,333.1 206.6,321.3 220.9,287.2 235.2,245.2 249.5,245.1 263.9,274.1 278.2,303.1 292.5,305.1 306.8,290.5 321.1,274.7 335.4,273.0 349.7,289.6 364.0,305.1 378.3,324.1 392.6,345.4 406.9,357.3 421.3,355.9 435.6,337.6 449.9,300.4 464.2,299.7 478.5,343.6 492.8,364.8 507.1,370.7 521.4,369.2 535.7,373.5 550.1,383.1 564.4,382.4 578.7,370.3 593.0,350.8 607.3,320.4 621.6,285.9 635.9,264.6 650.2,261.8 664.5,283.4 678.8,315.1 693.2,312.7"/>
<polyline points="49.2,216.0 63.5,185.0 77.8,152.5 92.1,126.2 106.4,146.6 120.8,201.9 135.1,251.8 149.4,259.6 163.7,288.3 178.0,313.6 192.3,328.0 206.6,330.8 220.9,335.2 235.2,340.1 249.5,330.3 263.9,290.8 278.2,260.8 292.5,246.0 306.8,247.0 321.1,252.2 335.4,247.6 349.7,232.1 364.0,215.0 378.3,205.0 392.6,198.9 406.9,200.2 421.3,210.9 435.6,217.9 449.9,217.0 464.2,212.6 478.5,205.4 492.8,197.4 507.1,192.0 521.4,185.1 535.7,164.5 550.1,144.3 564.4,154.4 578.7,186.8 593.0,222.1 607.3,244.5 621.6,256.1 635.9,248.8 650.2,233.0 664.5,233.1 678.8,252.0 693.2,261.8"/>
<polyline points="49.2,216.0 63.5,185.0 77.8,152.0 92.1,125.5 106.4,142.2 120.8,196.1 135.1,245.8 149.4,253.2 163.7,269.8 178.0,297.4 192.3,312.1 206.6,306.9 220.9,274.7 235.2,233.2 249.5,205.4 263.9,180.7 278.2,158.4 292.5,150.9 306.8,164.6 321.1,166.0 335.4,150.3 349.7,152.8 364.0,136.7 378.3,128.3 392.6,148.6 406.9,166.6 421.3,174.4 435.6,182.9 449.9,198.7 464.2,209.0 478.5,213.1 492.8,218.5 507.1,228.0 521.4,237.3 535.7,247.2 550.1,247.0 564.4,231.5 578.7,219.1 593.0,210.5 607.3,197.8 621.6,174.8 635.9,161.7 650.2,172.8 664.5,200.7 678.8,226.1 693.2,250.5"/>
<polyline points="49.2,216.0 63.5,185.5 77.8,153.0 92.1,127.0 106.4,149.5 120.8,208.0 135.1,266.0 149.4,279.8 163.7,315.8 178.0,337.1 192.3,351.6 206.6,360.1 220.9,360.0 235.2,362.3 249.5,358.5 263.9,325.0 278.2,295.7 292.5,282.2 306.8,280.4 321.1,269.5 335.4,253.9 349.7,250.5 364.0,279.2 378.3,312.6 392.6,309.9 406.9,262.1 421.3,215.4 435.6,192.4 449.9,199.4 464.2,222.7 478.5,251.1 492.8,279.6 507.1,295.0 521.4,289.4 535.7,258.3 550.1,234.4 564.4,237.6 578.7,260.2 593.0,274.7 607.3,267.8 621.6,256.8 635.9,238.9 650.2,217.7 664.5,197.6 678.8,186.9 693.2,186.9"/>
<polyline points="49.2,216.0 63.5,185.5 77.8,153.0 92.1,126.5 106.4,143.2 120.8,194.0 135.1,244.7 149.4,256.1 163.7,285.1 178.0,310.7 192.3,323.6 206.6,324.5 220.9,323.2 235.2,313.3 249.5,277.2 263.9,247.0 278.2,234.0 292.5,237.3 306.8,258.9 321.1,285.8 335.4,292.1 349.7,264.4 364.0,223.9 378.3,184.5 392.6,159.4 406.9,158.4 421.3,179.5 435.6,219.1 449.9,266.2 464.2,295.0 478.5,306.8 492.8,309.5 507.1,310.5 521.4,291.8 535.7,242.2 550.1,209.1 564.4,206.7 578.7,219.0 593.0,231.5 607.3,248.7 621.6,272.9 635.9,288.4 650.2,276.9 664.5,236.4 678.8,208.5 693.2,200.8"/>
<polyline points="49.2,216.0 63.5,185.3 77.8,152.9 92.1,125.9 106.4,142.9 120.8,200.1 135.1,258.8 149.4,276.3 163.7,335.2 178.0,361.3 192.3,372.0 206.6,395.0 220.9,457.0 235.2,482.0 249.5,482.0 263.9,467.0 278.2,455.0 292.5,425.0 306.8,400.0 321.1,385.0 335.4,370.0 349.7,360.0 364.0,350.0 378.3,345.6 392.6,340.9 406.9,340.0 421.3,344.4 435.6,346.4 449.9,346.8 464.2,345.6 478.5,339.1 492.8,338.5 507.1,350.7 521.4,367.2 535.7,380.6 550.1,383.8 564.4,373.7 578.7,354.9 593.0,344.2 607.3,351.7 621.6,365.4 635.9,371.3 650.2,369.2 664.5,368.3 678.8,373.7 693.2,375.4"/>
<polyline points="49.2,216.0 63.5,185.0 77.8,152.3 92.1,125.5 106.4,140.2 120.8,192.3 135.1,243.1 149.4,252.5 163.7,273.5 178.0,330.8 192.3,364.0 206.6,388.0 220.9,398.0 235.2,435.0 249.5,441.0 263.9,460.0 278.2,436.0 292.5,425.0 306.8,426.0 321.1,414.0 335.4,422.0 349.7,417.0 364.0,416.0 378.3,419.0 392.6,425.0 406.9,430.0 421.3,425.0 435.6,406.0 449.9,390.0 464.2,375.0 478.5,365.0 492.8,349.4 507.1,334.1 521.4,305.4 535.7,280.8 550.1,264.8 564.4,261.3 578.7,257.9 593.0,249.0 607.3,245.0 621.6,242.7 635.9,242.8 650.2,250.0 664.5,270.9 678.8,302.3 693.2,327.5"/>
<polyline points="49.2,216.0 63.5,185.6 77.8,153.0 92.1,126.3 106.4,143.6 120.8,197.7 135.1,250.3 149.4,262.0 163.7,292.9 178.0,314.5 192.3,346.0 206.6,365.2 220.9,385.0 235.2,406.0 249.5,414.0 263.9,416.0 278.2,415.0 292.5,419.0 306.8,410.0 321.1,395.0 335.4,380.0 349.7,370.0 364.0,357.1 378.3,333.6 392.6,311.9 406.9,329.6 421.3,349.8 435.6,356.6 449.9,356.9 464.2,356.0 478.5,356.5 492.8,359.9 507.1,361.4 521.4,355.4 535.7,337.0 550.1,299.6 564.4,267.2 578.7,252.4 593.0,257.4 607.3,271.3 621.6,283.7 635.9,288.2 650.2,295.6 664.5,302.8 678.8,302.5 693.2,303.5"/>
<polyline points="49.2,216.0 63.5,185.5 77.8,153.0 92.1,127.0 106.4,148.6 120.8,204.3 135.1,253.7 149.4,259.6 163.7,282.2 178.0,305.7 192.3,319.0 206.6,342.8 220.9,366.3 235.2,395.0 249.5,394.0 263.9,392.0 278.2,395.0 292.5,400.0 306.8,405.0 321.1,400.0 335.4,390.0 349.7,380.0 364.0,330.9 378.3,288.6 392.6,275.3 406.9,306.3 421.3,321.9 435.6,321.0 449.9,308.5 464.2,298.7 478.5,294.6 492.8,293.4 507.1,293.1 521.4,301.9 535.7,318.1 550.1,338.9 564.4,353.3 578.7,359.7 593.0,360.4 607.3,358.8 621.6,358.6 635.9,357.3 650.2,349.6 664.5,338.4 678.8,336.4 693.2,340.4"/>
<polyline points="49.2,216.0 63.5,185.0 77.8,153.0 92.1,126.7 106.4,146.1 120.8,199.4 135.1,248.8 149.4,257.2 163.7,279.8 178.0,305.9 192.3,328.1 206.6,341.3 220.9,343.5 235.2,338.7 249.5,328.2 263.9,331.2 278.2,349.8 292.5,360.0 306.8,370.0 321.1,385.0 335.4,407.0 349.7,433.0 364.0,465.0 378.3,468.0 392.6,451.0 406.9,448.0 421.3,444.0 435.6,439.0 449.9,430.0 464.2,427.5 478.5,420.0 492.8,405.0 507.1,395.0 521.4,380.4 535.7,366.2 550.1,343.1 564.4,307.8 578.7,269.1 593.0,247.6 607.3,252.6 621.6,271.0 635.9,280.0 650.2,271.7 664.5,256.7 678.8,248.1 693.2,246.6"/>
<polyline points="49.2,216.0 63.5,185.0 77.8,152.4 92.1,125.6 106.4,143.0 120.8,200.2 135.1,255.9 149.4,266.7 163.7,291.8 178.0,303.7 192.3,305.5 206.6,302.5 220.9,299.1 235.2,306.4 249.5,311.2 263.9,302.1 278.2,305.7 292.5,299.4 306.8,276.3 321.1,254.1 335.4,251.3 349.7,261.7 364.0,266.8 378.3,297.9 392.6,331.3 406.9,365.0 421.3,368.0 435.6,372.0 449.9,387.0 464.2,422.0 478.5,470.0 492.8,491.7 507.1,475.6 521.4,456.7 535.7,424.6 550.1,398.3 564.4,385.0 578.7,375.0 593.0,328.6 607.3,281.2 621.6,239.2 635.9,256.5 650.2,279.8 664.5,295.7 678.8,298.6 693.2,288.1"/>
<polyline points="49.2,216.0 63.5,185.0 77.8,152.0 92.1,125.6 106.4,142.7 120.8,198.2 135.1,251.0 149.4,261.6 163.7,291.5 178.0,313.5 192.3,325.4 206.6,323.7 220.9,317.7 235.2,308.7 249.5,293.9 263.9,276.2 278.2,276.8 292.5,316.8 306.8,356.7 321.1,395.0 335.4,405.0 349.7,411.0 364.0,413.5 378.3,431.6 392.6,438.8 406.9,440.7 421.3,437.0 435.6,433.4 449.9,422.5 464.2,406.2 478.5,393.6 492.8,385.0 507.1,343.3 521.4,310.3 535.7,295.6 550.1,325.8 564.4,338.0 578.7,324.2 593.0,293.3 607.3,268.7 621.6,253.9 635.9,240.6 650.2,230.5 664.5,235.1 678.8,245.4 693.2,251.6"/>
<polyline points="49.2,216.0 63.5,186.0 77.8,153.6 92.1,127.5 106.4,150.0 120.8,205.4 135.1,256.4 149.4,264.8 163.7,296.2 178.0,318.9 192.3,330.1 206.6,326.6 220.9,320.8 235.2,321.6 249.5,326.4 263.9,320.2 278.2,328.4 292.5,346.2 306.8,360.4 321.1,385.0 335.4,392.0 349.7,397.0 364.0,401.7 378.3,402.6 392.6,402.6 406.9,403.5 421.3,375.0 435.6,360.0 449.9,319.3 464.2,276.7 478.5,230.9 492.8,234.3 507.1,249.2 521.4,269.7 535.7,277.8 550.1,271.5 564.4,274.0 578.7,287.0 593.0,288.4 607.3,276.5 621.6,256.6 635.9,226.8 650.2,207.7 664.5,203.7 678.8,213.4 693.2,224.4"/>
<polyline points="49.2,216.0 63.5,185.0 77.8,152.3 92.1,125.8 106.4,143.4 120.8,197.2 135.1,247.0 149.4,253.5 163.7,265.5 178.0,285.4 192.3,292.3 206.6,292.3 220.9,277.9 235.2,276.6 249.5,284.4 263.9,273.0 278.2,268.6 292.5,273.9 306.8,319.5 321.1,349.7 335.4,380.0 349.7,392.0 364.0,399.9 378.3,395.4 392.6,390.0 406.9,384.5 421.3,393.6 435.6,391.7 449.9,395.4 464.2,385.0 478.5,370.0 492.8,315.1 507.1,254.7 521.4,199.1 535.7,202.7 550.1,199.5 564.4,198.2 578.7,199.1 593.0,200.4 607.3,203.3 621.6,221.0 635.9,251.6 650.2,276.6 664.5,278.5 678.8,266.1 693.2,262.0"/>
<polyline points="49.2,216.0 63.5,185.0 77.8,152.3 92.1,125.7 106.4,142.0 120.8,193.3 135.1,244.4 149.4,255.8 163.7,282.4 178.0,306.8 192.3,318.2 206.6,316.0 220.9,310.8 235.2,308.4 249.5,310.2 263.9,301.0 278.2,297.5 292.5,290.5 306.8,277.6 321.1,258.1 335.4,239.3 349.7,224.8 364.0,224.0 378.3,239.8 392.6,270.1 406.9,306.4 421.3,343.0 435.6,354.1 449.9,370.0 464.2,375.0 478.5,385.0 492.8,395.0 507.1,410.0 521.4,436.0 535.7,453.7 550.1,415.8 564.4,401.3 578.7,395.0 593.0,385.0 607.3,342.5 621.6,310.1 635.9,272.1 650.2,252.1 664.5,226.1 678.8,213.0 693.2,208.7"/>
<polyline points="49.2,216.0 63.5,185.0 77.8,152.4 92.1,125.7 106.4,142.7 120.8,199.0 135.1,253.1 149.4,262.7 163.7,290.2 178.0,310.5 192.3,320.2 206.6,310.8 220.9,280.0 235.2,238.8 249.5,219.5 263.9,224.0 278.2,232.8 292.5,249.9 306.8,271.8 321.1,281.2 335.4,272.3 349.7,257.1 364.0,243.1 378.3,239.6 392.6,247.2 406.9,263.2 421.3,272.6 435.6,275.6 449.9,277.4 464.2,284.2 478.5,283.2 492.8,266.3 507.1,289.4 521.4,329.0 535.7,370.0 550.1,378.0 564.4,385.0 578.7,395.0 593.0,410.0 607.3,433.0 621.6,455.0 635.9,480.0 650.2,492.3 664.5,465.0 678.8,425.0 693.2,403.0"/>
<polyline points="49.2,216.0 63.5,185.2 77.8,153.0 92.1,127.1 106.4,150.0 120.8,207.8 135.1,264.7 149.4,274.8 163.7,303.7 178.0,321.2 192.3,335.1 206.6,339.3 220.9,340.0 235.2,341.2 249.5,338.0 263.9,320.0 278.2,319.9 292.5,324.4 306.8,328.1 321.1,329.5 335.4,329.6 349.7,323.7 364.0,311.0 378.3,287.8 392.6,258.3 406.9,232.4 421.3,220.4 435.6,221.6 449.9,283.8 464.2,342.5 478.5,390.0 492.8,400.0 507.1,410.0 521.4,420.0 535.7,425.0 550.1,430.0 564.4,433.4 578.7,436.9 593.0,450.9 607.3,443.6 621.6,440.6 635.9,431.9 650.2,407.0 664.5,390.0 678.8,380.0 693.2,375.0"/>
<polyline points="49.2,216.0 63.5,185.7 77.8,153.3 92.1,127.3 106.4,150.0 120.8,207.4 135.1,262.1 149.4,271.7 163.7,302.9 178.0,322.3 192.3,333.4 206.6,329.5 220.9,319.0 235.2,301.6 249.5,279.2 263.9,260.4 278.2,248.0 292.5,239.4 306.8,241.0 321.1,248.7 335.4,270.4 349.7,287.7 364.0,285.7 378.3,258.9 392.6,227.1 406.9,208.7 421.3,208.5 435.6,215.6 449.9,216.7 464.2,213.9 478.5,269.0 492.8,326.1 507.1,380.0 521.4,385.0 535.7,395.0 550.1,400.0 564.4,402.7 578.7,407.1 593.0,415.3 607.3,415.3 621.6,402.7 635.9,391.0 650.2,380.0 664.5,375.0 678.8,323.7 693.2,287.9"/>
<polyline points="49.2,216.0 63.5,185.8 77.8,153.4 92.1,127.6 106.4,152.0 120.8,211.4 135.1,270.4 149.4,281.9 163.7,319.9 178.0,339.5 192.3,351.9 206.6,354.7 220.9,353.0 235.2,359.6 249.5,369.2 263.9,361.4 278.2,353.5 292.5,326.4 306.8,289.2 321.1,262.0 335.4,259.8 349.7,285.1 364.0,315.0 378.3,330.7 392.6,323.4 406.9,306.7 421.3,297.2 435.6,302.2 449.9,313.1 464.2,318.6 478.5,308.8 492.8,290.5 507.1,274.2 521.4,269.6 535.7,270.1 550.1,307.5 564.4,340.4 578.7,370.0 593.0,375.0 607.3,380.0 621.6,385.0 635.9,390.0 650.2,395.0 664.5,401.0 678.8,407.0 693.2,448.0"/>
<polyline points="49.2,216.0 63.5,185.0 77.8,152.4 92.1,126.0 106.4,144.9 120.8,200.5 135.1,252.4 149.4,261.6 163.7,287.3 178.0,305.6 192.3,312.5 206.6,311.1 220.9,306.4 235.2,302.2 249.5,280.6 263.9,251.1 278.2,227.7 292.5,210.0 306.8,204.5 321.1,214.1 335.4,231.0 349.7,237.7 364.0,232.6 378.3,227.8 392.6,236.3 406.9,252.5 421.3,268.1 435.6,268.5 449.9,263.5 464.2,266.8 478.5,289.8 492.8,312.7 507.1,312.4 521.4,288.7 535.7,296.3 550.1,327.4 564.4,370.0 578.7,375.0 593.0,380.0 607.3,390.0 621.6,400.0 635.9,407.0 650.2,398.0 664.5,394.0 678.8,394.0 693.2,394.0"/>
<polyline points="49.2,216.0 63.5,185.0 77.8,152.0 92.1,124.9 106.4,138.3 120.8,190.3 135.1,241.3 149.4,248.8 163.7,258.9 178.0,279.1 192.3,284.9 206.6,253.7 220.9,219.4 235.2,195.0 249.5,175.0 263.9,155.0 278.2,130.6 292.5,109.8 306.8,140.5 321.1,165.0 335.4,180.0 349.7,190.0 364.0,207.9 378.3,225.8 392.6,243.8 406.9,233.3 421.3,215.1 435.6,200.5 449.9,195.1 464.2,195.1 478.5,184.2 492.8,166.8 507.1,153.1 521.4,149.4 535.7,145.8 550.1,152.5 564.4,160.4 578.7,164.8 593.0,156.4 607.3,139.8 621.6,127.4 635.9,119.7 650.2,114.6 664.5,117.6 678.8,132.7 693.2,156.3"/>
<polyline points="49.2,216.0 63.5,184.7 77.8,152.0 92.1,125.2 106.4,141.1 120.8,193.2 135.1,244.2 149.4,254.1 163.7,277.4 178.0,306.3 192.3,325.1 206.6,325.4 220.9,320.5 235.2,319.2 249.5,312.6 263.9,287.4 278.2,240.3 292.5,205.9 306.8,185.0 321.1,172.0 335.4,165.0 349.7,158.0 364.0,131.7 378.3,116.4 392.6,135.0 406.9,164.6 421.3,180.0 435.6,190.0 449.9,187.7 464.2,167.5 478.5,154.0 492.8,164.3 507.1,177.9 521.4,178.2 535.7,163.4 550.1,151.0 564.4,149.9 578.7,153.5 593.0,156.1 607.3,157.0 621.6,160.8 635.9,162.7 650.2,165.3 664.5,170.3 678.8,184.3 693.2,199.8"/>
<polyline points="49.2,216.0 63.5,185.0 77.8,152.2 92.1,125.7 106.4,142.7 120.8,196.1 135.1,247.0 149.4,254.5 163.7,264.3 178.0,280.4 192.3,280.6 206.6,277.5 220.9,249.7 235.2,232.3 249.5,214.8 263.9,202.6 278.2,190.3 292.5,185.1 306.8,189.1 321.1,187.3 335.4,185.0 349.7,175.0 364.0,150.0 378.3,137.2 392.6,133.9 406.9,133.9 421.3,140.0 435.6,131.7 449.9,133.9 464.2,140.5 478.5,143.0 492.8,141.0 507.1,143.0 521.4,140.0 535.7,134.0 550.1,130.0 564.4,135.0 578.7,140.0 593.0,150.0 607.3,165.0 621.6,165.0 635.9,162.0 650.2,168.9 664.5,191.3 678.8,214.1 693.2,217.9"/>
<polyline points="49.2,216.0 63.5,185.0 77.8,152.0 92.1,125.6 106.4,144.0 120.8,201.3 135.1,252.4 149.4,259.1 163.7,278.3 178.0,296.2 192.3,270.3 206.6,240.2 220.9,218.0 235.2,189.0 249.5,164.0 263.9,160.0 278.2,150.0 292.5,140.0 306.8,138.0 321.1,135.0 335.4,140.5 349.7,150.0 364.0,160.0 378.3,165.0 392.6,170.0 406.9,187.2 421.3,219.2 435.6,251.8 449.9,235.4 464.2,210.9 478.5,191.2 492.8,182.5 507.1,182.9 521.4,185.2 535.7,183.1 550.1,178.5 564.4,173.6 578.7,163.0 593.0,138.9 607.3,118.5 621.6,113.8 635.9,123.3 650.2,141.4 664.5,153.0 678.8,158.4 693.2,165.3"/>
<polyline points="49.2,216.0 63.5,185.0 77.8,152.0 92.1,125.4 106.4,142.1 120.8,197.1 135.1,249.4 149.4,258.1 163.7,281.3 178.0,305.2 192.3,319.9 206.6,319.4 220.9,308.9 235.2,297.3 249.5,279.4 263.9,257.4 278.2,240.1 292.5,226.5 306.8,217.4 321.1,204.4 335.4,193.8 349.7,194.3 364.0,202.8 378.3,216.2 392.6,229.6 406.9,236.7 421.3,239.5 435.6,237.5 449.9,227.9 464.2,201.8 478.5,183.4 492.8,160.0 507.1,155.0 521.4,150.0 535.7,140.0 550.1,124.0 564.4,94.8 578.7,89.4 593.0,93.6 607.3,94.0 621.6,96.4 635.9,125.0 650.2,124.6 664.5,135.0 678.8,140.0 693.2,145.0"/>
<polyline points="49.2,216.0 63.5,184.8 77.8,151.8 92.1,124.7 106.4,137.1 120.8,186.3 135.1,235.8 149.4,244.5 163.7,255.7 178.0,280.4 192.3,289.0 206.6,290.4 220.9,269.7 235.2,247.7 249.5,230.6 263.9,223.2 278.2,206.3 292.5,195.8 306.8,199.9 321.1,208.0 335.4,208.5 349.7,197.7 364.0,185.4 378.3,179.3 392.6,184.9 406.9,200.8 421.3,207.9 435.6,200.7 449.9,176.8 464.2,151.7 478.5,157.2 492.8,163.2 507.1,170.0 521.4,165.0 535.7,160.0 550.1,150.0 564.4,110.0 578.7,101.8 593.0,103.0 607.3,112.0 621.6,110.0 635.9,107.6 650.2,99.5 664.5,101.0 678.8,115.0 693.2,110.0"/>
<polyline points="49.2,216.0 63.5,185.0 77.8,152.0 92.1,125.1 106.4,141.0 120.8,196.5 135.1,250.7 149.4,262.0 163.7,289.7 178.0,307.0 192.3,312.8 206.6,307.4 220.9,296.6 235.2,283.3 249.5,251.8 263.9,220.0 278.2,183.0 292.5,155.0 306.8,151.2 321.1,153.9 335.4,166.9 349.7,173.7 364.0,165.2 378.3,145.6 392.6,141.2 406.9,137.8 421.3,140.4 435.6,132.8 449.9,134.4 464.2,141.4 478.5,153.4 492.8,160.7 507.1,165.0 521.4,160.0 535.7,150.0 550.1,145.0 564.4,130.0 578.7,115.8 593.0,119.0 607.3,130.0 621.6,115.0 635.9,110.0 650.2,110.0 664.5,130.0 678.8,113.0 693.2,96.0"/>
</g>
<line x1="49.3" y1="347.6" x2="764.5" y2="347.6" stroke="#7a7a7a" stroke-width="1"/>
<line x1="49.3" y1="347.6" x2="764.5" y2="347.6" stroke="#222" stroke-width="1" stroke-dasharray="1.2,3.4"/>
<polyline points="163.7,322.0 178.0,340.0 192.3,351.0 206.6,357.0 220.9,363.0 235.2,366.5 249.5,366.0 263.9,361.0 278.2,358.6 292.5,357.5 306.8,377.0 321.1,383.0 335.4,390.0 349.7,376.0 364.0,366.0 378.3,357.0 392.6,347.5 406.9,338.5 421.3,339.0 435.6,339.5 449.9,340.0 464.2,343.0 478.5,346.0 492.8,356.0 507.1,356.0 521.4,353.0 535.7,350.5 550.1,355.0 564.4,362.0 578.7,367.0 593.0,371.0 607.3,376.0 621.6,364.5 635.9,361.5 650.2,360.5 664.5,361.0 678.8,358.8 693.2,367.0" stroke="#000080" stroke-width="1.6"/>
<polyline points="220.9,262.0 235.2,240.0 249.5,222.0 263.9,207.0 278.2,195.0 292.5,186.0 306.8,198.0 321.1,192.0 335.4,191.0 349.7,191.4 364.0,192.0 378.3,192.6 392.6,187.0 406.9,185.4 421.3,185.4 435.6,178.0 449.9,175.4 464.2,174.0 478.5,172.0 492.8,168.0 507.1,166.7 521.4,162.0 535.7,159.0 550.1,156.5 564.4,157.5 578.7,160.2 593.0,158.0 607.3,149.0 621.6,143.5 635.9,143.8 650.2,146.5 664.5,147.0 678.8,143.8 693.2,141.5" stroke="#000080" stroke-width="1.6"/>
<polyline points="49.2,39.5 63.5,42.1 77.8,47.6 92.1,48.0 106.4,43.9 120.8,46.1 135.1,45.4 149.4,39.2 163.7,52.7 178.0,58.6 192.3,62.5 206.6,61.8 220.9,57.9 235.2,59.7 249.5,57.3 263.9,53.8 278.2,48.3 292.5,42.5 306.8,40.3 321.1,48.3 335.4,49.8 349.7,47.2 364.0,56.5 378.3,64.3 392.6,59.2 406.9,62.3 421.3,59.9 435.6,64.5 449.9,50.5 464.2,60.3 478.5,59.9 492.8,76.2 507.1,73.8 521.4,73.3 535.7,75.5 550.1,84.1 564.4,87.5 578.7,91.2 593.0,93.7 607.3,105.7 621.6,103.5 635.9,106.2 650.2,104.7 664.5,101.1 678.8,100.3 693.2,95.9" stroke="#ff0000" stroke-width="1.8"/>
<polyline points="49.2,264.1 63.5,279.1 77.8,260.7 92.1,256.9 106.4,260.7 120.8,293.2 135.1,310.2 149.4,327.5 163.7,339.0 178.0,349.2 192.3,368.4 206.6,391.1 220.9,384.1 235.2,379.6 249.5,375.4 263.9,367.7 278.2,375.8 292.5,371.9 306.8,380.0 321.1,376.5 335.4,370.5 349.7,367.7 364.0,365.0 378.3,362.5 392.6,365.3 406.9,358.0 421.3,354.1 435.6,350.3 449.9,343.2 464.2,336.2 478.5,337.2 492.8,338.2 507.1,333.2 521.4,328.2 535.7,327.4 550.1,344.3 564.4,343.0 578.7,348.3 593.0,346.3 607.3,350.3 621.6,354.3 635.9,358.3 650.2,365.5 664.5,358.3 678.8,346.3 693.2,348.3" stroke="#ff0000" stroke-width="1.8"/>
<polyline points="49.2,128.2 63.5,128.9 77.8,126.0 92.1,130.5 106.4,136.2 120.8,143.2 135.1,149.7 149.4,153.7 163.7,160.3 178.0,166.2 192.3,171.7 206.6,173.6 220.9,176.5 235.2,178.7 249.5,180.2 263.9,181.1 278.2,182.2 292.5,184.2 306.8,183.8 321.1,185.5 335.4,186.4 349.7,186.7 364.0,188.1 378.3,189.9 392.6,192.6 406.9,194.1 421.3,195.9 435.6,198.1 449.9,199.9 464.2,202.1 478.5,204.4 492.8,207.8 507.1,210.2 521.4,212.7 535.7,215.0 550.1,217.3 564.4,218.1 578.7,218.9 593.0,219.7 607.3,220.4 621.6,220.7 635.9,221.0 650.2,221.2 664.5,221.4 678.8,221.4 693.2,221.4" stroke="#000" stroke-width="4.6"/>
<polyline points="49.2,128.2 63.5,128.9 77.8,126.0 92.1,130.5 106.4,136.2 120.8,143.2 135.1,149.7 149.4,153.7 163.7,160.3 178.0,166.2 192.3,171.7 206.6,173.6 220.9,176.5 235.2,178.7 249.5,180.2 263.9,181.1 278.2,182.2 292.5,184.2 306.8,183.8 321.1,185.5 335.4,186.4 349.7,186.7 364.0,188.1 378.3,189.9 392.6,192.6 406.9,194.1 421.3,195.9 435.6,198.1 449.9,199.9 464.2,202.1 478.5,204.4 492.8,207.8 507.1,210.2 521.4,212.7 535.7,215.0 550.1,217.3 564.4,218.1 578.7,218.9 593.0,219.7 607.3,220.4 621.6,220.7 635.9,221.0 650.2,221.2 664.5,221.4 678.8,221.4 693.2,221.4" stroke="#ff0000" stroke-width="3.0"/>
<polyline points="49.2,216.0 63.5,185.0 77.8,152.4 92.1,124.9 106.4,145.0 120.8,200.5 135.1,249.5 149.4,259.0 163.7,286.0 178.0,305.0 192.3,320.0 206.6,317.6 220.9,310.3 235.2,304.2 249.5,297.5 263.9,284.6 278.2,274.9 292.5,268.5 306.8,267.5 321.1,267.5 335.4,267.8 349.7,267.0 364.0,266.0 378.3,265.5 392.6,265.0 406.9,263.0 421.3,260.5 435.6,259.5 449.9,257.5 464.2,256.0 478.5,256.5 492.8,258.5 507.1,258.0 521.4,256.5 535.7,255.0 550.1,253.0 564.4,251.0 578.7,249.5 593.0,248.5 607.3,248.0 621.6,247.0 635.9,246.5 650.2,246.0 664.5,245.0 678.8,243.5 693.2,242.0" stroke="#000" stroke-width="3.9"/>
<polyline points="49.2,216.0 63.5,185.0 77.8,152.4 92.1,124.9 106.4,145.0 120.8,200.5 135.1,249.5 149.4,259.0 163.7,286.0 178.0,305.0 192.3,320.0 206.6,317.6 220.9,310.3 235.2,304.2 249.5,297.5 263.9,284.6 278.2,274.9 292.5,268.5 306.8,267.5 321.1,267.5 335.4,267.8 349.7,267.0 364.0,266.0 378.3,265.5 392.6,265.0 406.9,263.0 421.3,260.5 435.6,259.5 449.9,257.5 464.2,256.0 478.5,256.5 492.8,258.5 507.1,258.0 521.4,256.5 535.7,255.0 550.1,253.0 564.4,251.0 578.7,249.5 593.0,248.5 607.3,248.0 621.6,247.0 635.9,246.5 650.2,246.0 664.5,245.0 678.8,243.5 693.2,242.0" stroke="#0000ff" stroke-width="2.8"/>
</g>
<rect x="49.3" y="28.4" width="715.2" height="475.90000000000003" fill="none" stroke="#1e1e1e" stroke-width="1.3"/>
<line x1="43.2" y1="486.8" x2="49.3" y2="486.8" stroke="#333" stroke-width="1"/>
<text x="37.3" y="491.0" text-anchor="end" font-size="11">-25</text>
<line x1="43.2" y1="458.9" x2="49.3" y2="458.9" stroke="#333" stroke-width="1"/>
<text x="37.3" y="463.1" text-anchor="end" font-size="11">-20</text>
<line x1="43.2" y1="431.1" x2="49.3" y2="431.1" stroke="#333" stroke-width="1"/>
<text x="37.3" y="435.3" text-anchor="end" font-size="11">-15</text>
<line x1="43.2" y1="403.2" x2="49.3" y2="403.2" stroke="#333" stroke-width="1"/>
<text x="37.3" y="407.4" text-anchor="end" font-size="11">-10</text>
<line x1="43.2" y1="375.4" x2="49.3" y2="375.4" stroke="#333" stroke-width="1"/>
<text x="37.3" y="379.6" text-anchor="end" font-size="11">-5</text>
<line x1="43.2" y1="347.5" x2="49.3" y2="347.5" stroke="#333" stroke-width="1"/>
<text x="37.3" y="351.7" text-anchor="end" font-size="11">0</text>
<line x1="43.2" y1="319.6" x2="49.3" y2="319.6" stroke="#333" stroke-width="1"/>
<text x="37.3" y="323.8" text-anchor="end" font-size="11">5</text>
<line x1="43.2" y1="291.8" x2="49.3" y2="291.8" stroke="#333" stroke-width="1"/>
<text x="37.3" y="296.0" text-anchor="end" font-size="11">10</text>
<line x1="43.2" y1="263.9" x2="49.3" y2="263.9" stroke="#333" stroke-width="1"/>
<text x="37.3" y="268.1" text-anchor="end" font-size="11">15</text>
<line x1="43.2" y1="236.1" x2="49.3" y2="236.1" stroke="#333" stroke-width="1"/>
<text x="37.3" y="240.3" text-anchor="end" font-size="11">20</text>
<line x1="43.2" y1="208.2" x2="49.3" y2="208.2" stroke="#333" stroke-width="1"/>
<text x="37.3" y="212.4" text-anchor="end" font-size="11">25</text>
<line x1="43.2" y1="180.3" x2="49.3" y2="180.3" stroke="#333" stroke-width="1"/>
<text x="37.3" y="184.5" text-anchor="end" font-size="11">30</text>
<line x1="43.2" y1="152.5" x2="49.3" y2="152.5" stroke="#333" stroke-width="1"/>
<text x="37.3" y="156.7" text-anchor="end" font-size="11">35</text>
<line x1="43.2" y1="124.6" x2="49.3" y2="124.6" stroke="#333" stroke-width="1"/>
<text x="37.3" y="128.8" text-anchor="end" font-size="11">40</text>
<line x1="43.2" y1="96.8" x2="49.3" y2="96.8" stroke="#333" stroke-width="1"/>
<text x="37.3" y="101.0" text-anchor="end" font-size="11">45</text>
<line x1="43.2" y1="68.9" x2="49.3" y2="68.9" stroke="#333" stroke-width="1"/>
<text x="37.3" y="73.1" text-anchor="end" font-size="11">50</text>
<line x1="43.2" y1="41.0" x2="49.3" y2="41.0" stroke="#333" stroke-width="1"/>
<text x="37.3" y="45.2" text-anchor="end" font-size="11">55</text>
<line x1="49.2" y1="504.3" x2="49.2" y2="508.6" stroke="#333" stroke-width="1"/>
<text x="49.2" y="520.0" text-anchor="middle" font-size="11">Wed27</text>
<text x="49.2" y="531.2" text-anchor="middle" font-size="11">Dec</text>
<text x="49.2" y="542.4" text-anchor="middle" font-size="11">2023</text>
<line x1="149.4" y1="504.3" x2="149.4" y2="508.6" stroke="#333" stroke-width="1"/>
<text x="149.4" y="520.0" text-anchor="middle" font-size="11">Wed 3</text>
<text x="149.4" y="531.2" text-anchor="middle" font-size="11">Jan</text>
<text x="149.4" y="542.4" text-anchor="middle" font-size="11">2024</text>
<line x1="249.5" y1="504.3" x2="249.5" y2="508.6" stroke="#333" stroke-width="1"/>
<text x="249.5" y="520.0" text-anchor="middle" font-size="11">Wed10</text>
<line x1="349.7" y1="504.3" x2="349.7" y2="508.6" stroke="#333" stroke-width="1"/>
<text x="349.7" y="520.0" text-anchor="middle" font-size="11">Wed17</text>
<line x1="449.9" y1="504.3" x2="449.9" y2="508.6" stroke="#333" stroke-width="1"/>
<text x="449.9" y="520.0" text-anchor="middle" font-size="11">Wed24</text>
<line x1="550.1" y1="504.3" x2="550.1" y2="508.6" stroke="#333" stroke-width="1"/>
<text x="550.1" y="520.0" text-anchor="middle" font-size="11">Wed31</text>
<line x1="650.2" y1="504.3" x2="650.2" y2="508.6" stroke="#333" stroke-width="1"/>
<text x="650.2" y="520.0" text-anchor="middle" font-size="11">Wed 7</text>
<text x="650.2" y="531.2" text-anchor="middle" font-size="11">Feb</text>
<line x1="750.4" y1="504.3" x2="750.4" y2="508.6" stroke="#333" stroke-width="1"/>
<text x="750.4" y="520.0" text-anchor="middle" font-size="11">Wed14</text>
<text transform="translate(15.2,266.3) rotate(-90)" text-anchor="middle" font-size="11.8">[m/s]</text>
<text x="406.7" y="21.7" text-anchor="middle" font-size="22.6">Zonal mean zonal wind at 10 hPa 20231227</text>
</svg>
</body></html>
